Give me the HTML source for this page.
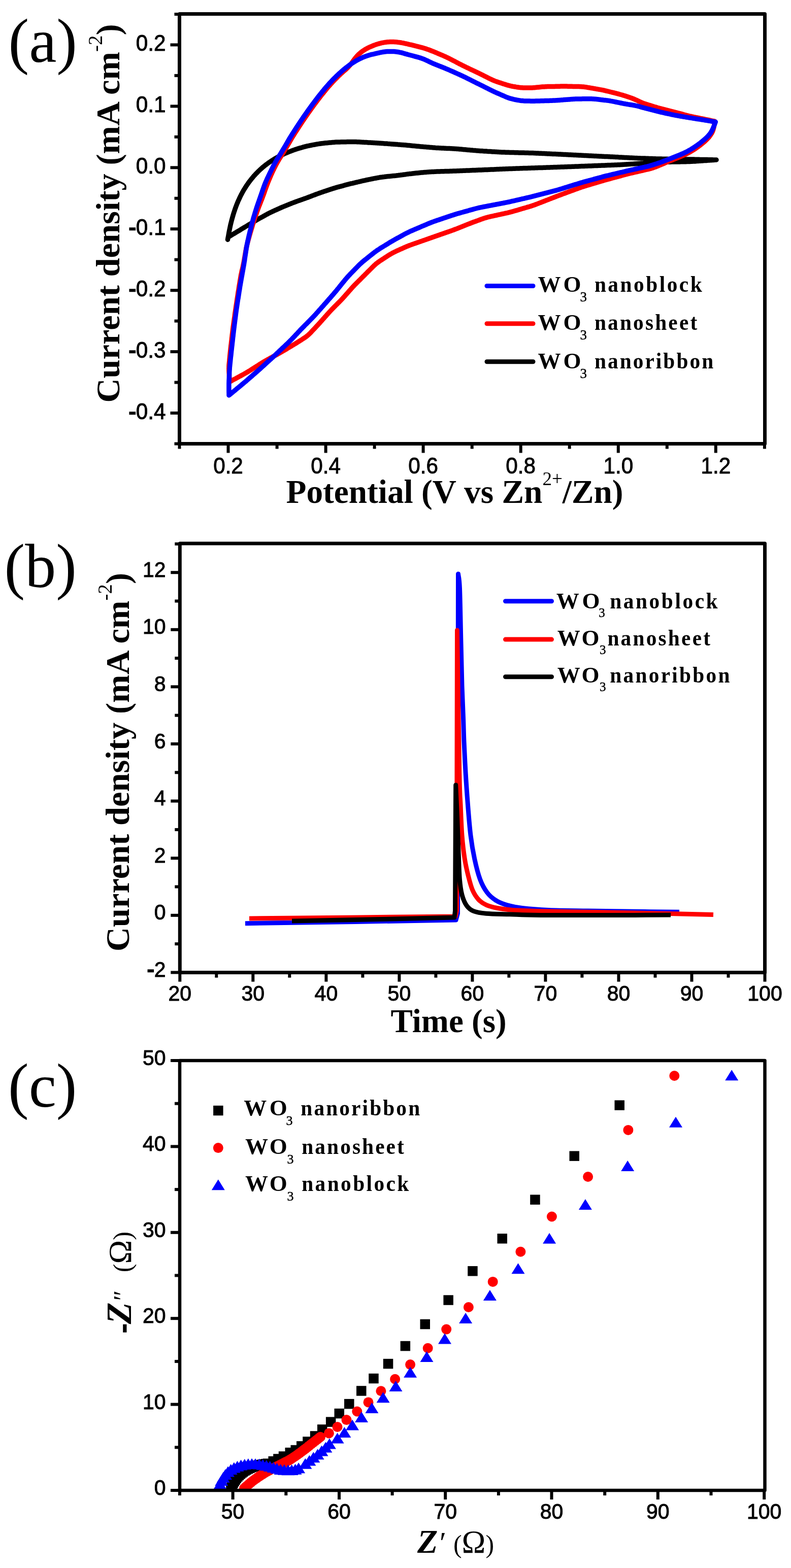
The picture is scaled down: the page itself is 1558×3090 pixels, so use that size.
<!DOCTYPE html>
<html><head><meta charset="utf-8"><title>WO3 electrochemistry figure</title>
<style>html,body{margin:0;padding:0;background:#fff;}svg{display:block;}</style>
</head><body>
<svg width="1558" height="3090" viewBox="0 0 1558 3090">
<rect width="1558" height="3090" fill="#fff"/>
<g fill="none" stroke-width="9.5" stroke-linejoin="round" stroke-linecap="round">
<path stroke="#000" d="M448.5,472.3 L448.8,470.3 L449.2,468.3 L449.5,466.4 L449.9,464.4 L450.2,462.4 L450.6,460.4 L450.9,458.5 L451.3,456.5 L451.7,454.5 L452.1,452.6 L452.5,450.6 L452.9,448.6 L453.3,446.7 L453.7,444.7 L454.2,442.7 L454.6,440.8 L455.1,438.8 L455.6,436.9 L456.1,434.9 L456.6,433.0 L457.1,431.1 L457.7,429.1 L458.2,427.2 L458.8,425.3 L459.3,423.4 L459.9,421.4 L460.5,419.5 L461.1,417.6 L461.8,415.7 L462.4,413.8 L463.0,411.9 L463.7,410.0 L464.4,408.1 L465.1,406.2 L465.8,404.4 L466.5,402.5 L467.3,400.6 L468.1,398.8 L468.8,396.9 L469.6,395.1 L470.5,393.3 L471.3,391.5 L472.2,389.6 L473.0,387.8 L473.9,386.0 L474.8,384.2 L475.7,382.5 L476.7,380.7 L477.6,378.9 L478.6,377.2 L479.6,375.4 L480.6,373.7 L481.7,372.0 L482.7,370.3 L483.8,368.6 L484.9,366.9 L486.0,365.2 L487.1,363.6 L488.3,361.9 L489.4,360.3 L490.6,358.7 L491.8,357.1 L493.0,355.5 L494.3,353.9 L495.5,352.3 L496.8,350.8 L498.1,349.3 L499.4,347.7 L500.7,346.2 L502.1,344.7 L503.4,343.3 L504.8,341.8 L506.2,340.4 L507.6,338.9 L509.0,337.5 L510.5,336.1 L511.9,334.8 L513.4,333.4 L514.9,332.1 L516.4,330.7 L517.9,329.4 L519.5,328.2 L521.0,326.9 L522.6,325.6 L524.2,324.4 L525.8,323.2 L527.4,322.0 L529.0,320.8 L530.7,319.7 L532.3,318.6 L534.0,317.4 L535.7,316.4 L537.4,315.3 L539.1,314.2 L540.8,313.2 L542.5,312.1 L544.2,311.1 L546.0,310.2 L547.7,309.2 L549.5,308.3 L551.3,307.4 L553.1,306.5 L554.9,305.6 L556.7,304.7 L558.5,303.8 L560.3,303.0 L562.1,302.2 L564.0,301.4 L565.8,300.6 L567.7,299.8 L569.6,299.1 L571.4,298.4 L573.3,297.7 L575.2,296.9 L577.1,296.2 L578.9,295.6 L580.8,294.9 L582.7,294.3 L584.6,293.6 L586.6,293.0 L588.5,292.4 L590.4,291.9 L592.3,291.3 L594.3,290.8 L596.2,290.2 L598.1,289.7 L600.1,289.2 L602.0,288.7 L603.9,288.2 L605.9,287.7 L607.9,287.3 L609.8,286.9 L611.8,286.5 L613.7,286.1 L615.7,285.7 L617.7,285.3 L619.7,285.0 L621.6,284.6 L623.6,284.2 L625.6,283.9 L627.6,283.6 L629.6,283.3 L631.5,283.0 L633.5,282.7 L635.5,282.5 L637.5,282.3 L639.5,282.0 L641.5,281.8 L643.5,281.7 L645.5,281.5 L647.5,281.3 L649.5,281.1 L651.5,280.9 L653.5,280.7 L655.5,280.5 L657.5,280.4 L659.5,280.2 L661.5,280.1 L663.5,280.0 L665.5,279.9 L667.5,279.9 L669.5,279.9 L671.5,279.8 L673.5,279.8 L675.5,279.8 L677.5,279.7 L679.5,279.7 L681.5,279.7 L683.6,279.6 L685.6,279.6 L687.6,279.6 L689.6,279.6 L691.6,279.5 L693.6,279.5 L695.6,279.5 L697.6,279.5 L699.6,279.6 L701.6,279.6 L703.6,279.7 L705.6,279.7 L707.6,279.8 L709.6,279.9 L711.6,280.1 L713.6,280.2 L715.6,280.3 L717.6,280.4 L719.6,280.5 L721.6,280.6 L723.7,280.7 L725.7,280.9 L727.7,281.0 L729.7,281.1 L731.7,281.2 L733.7,281.3 L735.7,281.5 L737.7,281.6 L739.7,281.7 L741.7,281.8 L743.7,282.0 L745.7,282.1 L747.7,282.2 L749.7,282.3 L751.7,282.5 L753.7,282.6 L755.7,282.7 L757.7,282.9 L759.7,283.0 L761.7,283.1 L763.7,283.3 L765.7,283.4 L767.7,283.6 L769.7,283.7 L771.7,283.9 L773.7,284.0 L775.7,284.2 L777.7,284.3 L779.7,284.5 L781.7,284.6 L783.7,284.8 L785.7,284.9 L787.7,285.1 L789.7,285.2 L791.7,285.4 L793.7,285.5 L795.7,285.7 L797.7,285.8 L799.7,286.0 L801.7,286.2 L803.7,286.4 L805.7,286.6 L807.7,286.8 L809.7,287.0 L811.7,287.2 L813.7,287.4 L815.7,287.6 L817.7,287.8 L819.7,288.0 L821.7,288.2 L823.7,288.3 L825.7,288.5 L827.7,288.7 L829.7,288.9 L831.7,289.1 L833.7,289.3 L835.7,289.5 L837.7,289.6 L839.7,289.8 L841.7,290.0 L843.7,290.1 L845.7,290.3 L847.7,290.5 L849.7,290.6 L851.7,290.8 L853.7,291.0 L855.7,291.1 L857.7,291.3 L859.7,291.4 L861.7,291.5 L863.7,291.6 L865.7,291.7 L867.7,291.8 L869.7,291.9 L871.7,292.0 L873.7,292.1 L875.7,292.2 L877.7,292.3 L879.7,292.4 L881.7,292.5 L883.8,292.5 L885.8,292.6 L887.8,292.7 L889.8,292.8 L891.8,292.9 L893.8,293.0 L895.8,293.2 L897.8,293.3 L899.8,293.5 L901.8,293.6 L903.8,293.8 L905.8,294.0 L907.8,294.1 L909.8,294.3 L911.8,294.5 L913.8,294.7 L915.8,294.8 L917.8,295.0 L919.8,295.2 L921.8,295.4 L923.8,295.5 L925.8,295.7 L927.8,295.9 L929.8,296.1 L931.8,296.3 L933.8,296.4 L935.8,296.6 L937.8,296.8 L939.8,296.9 L941.8,297.1 L943.8,297.2 L945.8,297.4 L947.8,297.5 L949.8,297.6 L951.8,297.8 L953.8,297.9 L955.8,298.0 L957.8,298.1 L959.8,298.3 L961.8,298.4 L963.8,298.5 L965.8,298.6 L967.8,298.7 L969.8,298.9 L971.8,299.0 L973.8,299.1 L975.8,299.2 L977.8,299.3 L979.8,299.5 L981.8,299.6 L983.8,299.7 L985.8,299.8 L987.8,299.9 L989.8,300.0 L991.9,300.1 L993.9,300.1 L995.9,300.2 L997.9,300.2 L999.9,300.3 L1001.9,300.3 L1003.9,300.4 L1005.9,300.5 L1007.9,300.5 L1009.9,300.6 L1011.9,300.6 L1013.9,300.7 L1015.9,300.7 L1017.9,300.8 L1019.9,300.8 L1021.9,300.9 L1023.9,300.9 L1026.0,301.0 L1028.0,301.0 L1030.0,301.1 L1032.0,301.1 L1034.0,301.2 L1036.0,301.2 L1038.0,301.3 L1040.0,301.3 L1042.0,301.4 L1044.0,301.4 L1046.0,301.5 L1048.0,301.6 L1050.0,301.6 L1052.0,301.7 L1054.0,301.8 L1056.0,301.9 L1058.1,302.0 L1060.1,302.1 L1062.1,302.2 L1064.1,302.2 L1066.1,302.3 L1068.1,302.4 L1070.1,302.5 L1072.1,302.6 L1074.1,302.7 L1076.1,302.8 L1078.1,302.9 L1080.1,303.0 L1082.1,303.1 L1084.1,303.2 L1086.1,303.3 L1088.1,303.4 L1090.1,303.4 L1092.1,303.5 L1094.1,303.6 L1096.1,303.7 L1098.1,303.8 L1100.2,303.9 L1102.2,304.0 L1104.2,304.1 L1106.2,304.2 L1108.2,304.3 L1110.2,304.4 L1112.2,304.5 L1114.2,304.6 L1116.2,304.7 L1118.2,304.8 L1120.2,304.9 L1122.2,305.0 L1124.2,305.1 L1126.2,305.2 L1128.2,305.3 L1130.2,305.4 L1132.2,305.5 L1134.2,305.6 L1136.2,305.7 L1138.2,305.8 L1140.2,305.9 L1142.2,306.0 L1144.3,306.1 L1146.3,306.2 L1148.3,306.3 L1150.3,306.4 L1152.3,306.5 L1154.3,306.6 L1156.3,306.7 L1158.3,306.8 L1160.3,306.9 L1162.3,307.0 L1164.3,307.1 L1166.3,307.2 L1168.3,307.3 L1170.3,307.4 L1172.3,307.5 L1174.3,307.6 L1176.3,307.7 L1178.3,307.8 L1180.3,307.9 L1182.3,308.0 L1184.3,308.1 L1186.3,308.2 L1188.4,308.3 L1190.4,308.4 L1192.4,308.4 L1194.4,308.5 L1196.4,308.6 L1198.4,308.7 L1200.4,308.8 L1202.4,308.9 L1204.4,309.0 L1206.4,309.1 L1208.4,309.2 L1210.4,309.3 L1212.4,309.4 L1214.4,309.5 L1216.4,309.6 L1218.4,309.8 L1220.4,309.9 L1222.4,310.0 L1224.4,310.1 L1226.4,310.2 L1228.4,310.3 L1230.4,310.4 L1232.4,310.5 L1234.5,310.6 L1236.5,310.7 L1238.5,310.8 L1240.5,310.9 L1242.5,311.0 L1244.5,311.1 L1246.5,311.2 L1248.5,311.3 L1250.5,311.4 L1252.5,311.5 L1254.5,311.6 L1256.5,311.7 L1258.5,311.7 L1260.5,311.8 L1262.5,311.9 L1264.5,311.9 L1266.5,312.0 L1268.5,312.1 L1270.5,312.1 L1272.6,312.2 L1274.6,312.3 L1276.6,312.3 L1278.6,312.4 L1280.6,312.5 L1282.6,312.5 L1284.6,312.6 L1286.6,312.7 L1288.6,312.7 L1290.6,312.8 L1292.6,312.9 L1294.6,312.9 L1296.6,313.0 L1298.6,313.0 L1300.6,313.1 L1302.6,313.1 L1304.6,313.2 L1306.7,313.2 L1308.7,313.2 L1310.7,313.3 L1312.7,313.3 L1314.7,313.3 L1316.7,313.4 L1318.7,313.4 L1320.7,313.4 L1322.7,313.4 L1324.7,313.5 L1326.7,313.5 L1328.7,313.5 L1330.7,313.6 L1332.7,313.6 L1334.7,313.6 L1336.8,313.7 L1338.8,313.7 L1340.8,313.7 L1342.8,313.7 L1344.8,313.8 L1346.8,313.8 L1348.8,313.8 L1350.8,313.9 L1352.8,313.9 L1354.8,313.9 L1356.8,314.0 L1358.8,314.0 L1360.8,314.0 L1362.8,314.1 L1364.8,314.1 L1366.9,314.1 L1368.9,314.2 L1370.9,314.2 L1372.9,314.3 L1374.9,314.3 L1376.9,314.3 L1378.9,314.4 L1380.9,314.4 L1382.9,314.4 L1384.9,314.5 L1386.9,314.5 L1388.9,314.6 L1390.9,314.6 L1392.9,314.6 L1394.9,314.7 L1397.0,314.7 L1399.0,314.8 L1401.0,314.8 L1403.0,314.8 L1405.0,314.9 L1407.0,314.9 L1409.0,315.0 L1411.0,315.0 M1411.0,315.0 L1409.0,315.1 L1407.0,315.3 L1405.0,315.4 L1403.0,315.5 L1401.0,315.7 L1399.0,315.8 L1397.0,316.0 L1395.0,316.1 L1393.0,316.2 L1391.0,316.4 L1389.0,316.5 L1387.0,316.6 L1385.0,316.8 L1383.0,316.9 L1381.0,317.1 L1379.0,317.2 L1377.0,317.3 L1375.0,317.5 L1373.0,317.6 L1371.0,317.7 L1369.0,317.9 L1367.0,318.0 L1365.0,318.1 L1363.0,318.2 L1361.0,318.3 L1359.0,318.4 L1357.0,318.5 L1355.0,318.6 L1353.0,318.6 L1351.0,318.7 L1349.0,318.7 L1347.0,318.7 L1345.0,318.8 L1343.0,318.8 L1341.0,318.8 L1339.0,318.9 L1337.0,318.9 L1335.0,318.9 L1332.9,319.0 L1330.9,319.0 L1328.9,319.0 L1326.9,319.1 L1324.9,319.1 L1322.9,319.1 L1320.9,319.2 L1318.9,319.2 L1316.9,319.2 L1314.9,319.3 L1312.9,319.3 L1310.9,319.3 L1308.9,319.4 L1306.9,319.4 L1304.9,319.4 L1302.9,319.5 L1300.9,319.6 L1298.9,319.7 L1296.9,319.8 L1294.9,319.9 L1292.9,320.0 L1290.9,320.1 L1288.9,320.3 L1286.9,320.4 L1284.9,320.5 L1282.9,320.7 L1280.9,320.8 L1278.9,320.9 L1276.9,321.1 L1274.9,321.2 L1272.9,321.4 L1270.9,321.5 L1268.9,321.6 L1266.9,321.8 L1264.9,321.9 L1262.9,322.0 L1260.9,322.2 L1258.9,322.3 L1256.9,322.4 L1254.9,322.5 L1252.9,322.7 L1250.9,322.8 L1248.9,322.9 L1246.9,323.1 L1244.9,323.2 L1242.9,323.3 L1240.9,323.5 L1238.9,323.6 L1236.9,323.7 L1234.9,323.8 L1232.9,324.0 L1230.9,324.1 L1228.9,324.2 L1226.9,324.3 L1224.9,324.5 L1222.9,324.6 L1220.9,324.7 L1218.9,324.8 L1216.9,324.8 L1214.9,324.9 L1212.9,325.0 L1210.9,325.1 L1208.9,325.2 L1206.9,325.2 L1204.8,325.3 L1202.8,325.4 L1200.8,325.5 L1198.8,325.5 L1196.8,325.6 L1194.8,325.7 L1192.8,325.8 L1190.8,325.9 L1188.8,325.9 L1186.8,326.0 L1184.8,326.1 L1182.8,326.2 L1180.8,326.3 L1178.8,326.3 L1176.8,326.4 L1174.8,326.5 L1172.8,326.6 L1170.8,326.6 L1168.8,326.7 L1166.8,326.8 L1164.8,326.9 L1162.8,327.0 L1160.8,327.0 L1158.8,327.1 L1156.8,327.2 L1154.8,327.3 L1152.8,327.3 L1150.8,327.4 L1148.8,327.5 L1146.8,327.6 L1144.8,327.6 L1142.8,327.7 L1140.8,327.8 L1138.7,327.9 L1136.7,327.9 L1134.7,328.0 L1132.7,328.1 L1130.7,328.2 L1128.7,328.2 L1126.7,328.3 L1124.7,328.4 L1122.7,328.5 L1120.7,328.5 L1118.7,328.6 L1116.7,328.7 L1114.7,328.8 L1112.7,328.8 L1110.7,328.9 L1108.7,329.0 L1106.7,329.0 L1104.7,329.1 L1102.7,329.2 L1100.7,329.3 L1098.7,329.3 L1096.7,329.4 L1094.7,329.5 L1092.7,329.5 L1090.7,329.6 L1088.7,329.7 L1086.7,329.8 L1084.7,329.8 L1082.7,329.9 L1080.7,330.0 L1078.7,330.0 L1076.6,330.1 L1074.6,330.2 L1072.6,330.2 L1070.6,330.3 L1068.6,330.4 L1066.6,330.4 L1064.6,330.5 L1062.6,330.6 L1060.6,330.6 L1058.6,330.7 L1056.6,330.8 L1054.6,330.8 L1052.6,330.9 L1050.6,331.0 L1048.6,331.0 L1046.6,331.1 L1044.6,331.2 L1042.6,331.2 L1040.6,331.3 L1038.6,331.4 L1036.6,331.4 L1034.6,331.5 L1032.6,331.6 L1030.6,331.6 L1028.6,331.7 L1026.6,331.8 L1024.6,331.8 L1022.6,331.9 L1020.6,332.0 L1018.6,332.0 L1016.5,332.1 L1014.5,332.2 L1012.5,332.2 L1010.5,332.3 L1008.5,332.4 L1006.5,332.4 L1004.5,332.5 L1002.5,332.6 L1000.5,332.7 L998.5,332.7 L996.5,332.8 L994.5,332.9 L992.5,333.0 L990.5,333.1 L988.5,333.2 L986.5,333.3 L984.5,333.3 L982.5,333.4 L980.5,333.5 L978.5,333.6 L976.5,333.7 L974.5,333.8 L972.5,333.9 L970.5,334.0 L968.5,334.0 L966.5,334.1 L964.5,334.2 L962.5,334.3 L960.5,334.4 L958.5,334.5 L956.5,334.5 L954.5,334.6 L952.5,334.7 L950.5,334.8 L948.5,334.9 L946.5,335.0 L944.4,335.0 L942.4,335.1 L940.4,335.2 L938.4,335.3 L936.4,335.4 L934.4,335.4 L932.4,335.5 L930.4,335.6 L928.4,335.7 L926.4,335.8 L924.4,335.9 L922.4,335.9 L920.4,336.0 L918.4,336.1 L916.4,336.2 L914.4,336.3 L912.4,336.3 L910.4,336.4 L908.4,336.5 L906.4,336.6 L904.4,336.7 L902.4,336.7 L900.4,336.8 L898.4,336.9 L896.4,337.0 L894.4,337.0 L892.4,337.1 L890.4,337.2 L888.4,337.2 L886.4,337.3 L884.4,337.4 L882.4,337.4 L880.4,337.5 L878.3,337.5 L876.3,337.6 L874.3,337.7 L872.3,337.7 L870.3,337.8 L868.3,337.8 L866.3,337.9 L864.3,338.0 L862.3,338.1 L860.3,338.1 L858.3,338.2 L856.3,338.3 L854.3,338.4 L852.3,338.5 L850.3,338.6 L848.3,338.7 L846.3,338.8 L844.3,338.9 L842.3,339.1 L840.3,339.2 L838.3,339.4 L836.3,339.5 L834.3,339.7 L832.3,339.9 L830.3,340.1 L828.3,340.3 L826.3,340.5 L824.3,340.7 L822.3,340.9 L820.3,341.1 L818.4,341.3 L816.4,341.5 L814.4,341.7 L812.4,341.9 L810.4,342.2 L808.4,342.4 L806.4,342.6 L804.4,342.9 L802.4,343.1 L800.4,343.4 L798.5,343.7 L796.5,343.9 L794.5,344.2 L792.5,344.5 L790.5,344.7 L788.5,345.0 L786.5,345.2 L784.5,345.5 L782.6,345.7 L780.6,346.0 L778.6,346.2 L776.6,346.4 L774.6,346.6 L772.6,346.8 L770.6,347.1 L768.6,347.2 L766.6,347.4 L764.6,347.6 L762.6,347.8 L760.6,348.0 L758.6,348.2 L756.6,348.5 L754.7,348.7 L752.7,349.0 L750.7,349.2 L748.7,349.5 L746.7,349.9 L744.8,350.2 L742.8,350.6 L740.8,351.0 L738.9,351.3 L736.9,351.7 L734.9,352.1 L733.0,352.5 L731.0,352.9 L729.0,353.3 L727.1,353.7 L725.1,354.1 L723.1,354.5 L721.2,354.9 L719.2,355.4 L717.3,355.8 L715.3,356.2 L713.3,356.7 L711.4,357.1 L709.4,357.6 L707.5,358.0 L705.5,358.5 L703.6,359.0 L701.6,359.4 L699.7,359.9 L697.7,360.3 L695.8,360.8 L693.8,361.3 L691.9,361.7 L689.9,362.2 L688.0,362.7 L686.1,363.2 L684.1,363.7 L682.2,364.2 L680.2,364.7 L678.3,365.2 L676.4,365.8 L674.4,366.3 L672.5,366.8 L670.6,367.3 L668.6,367.8 L666.7,368.3 L664.7,368.9 L662.8,369.4 L660.9,370.0 L659.0,370.6 L657.1,371.1 L655.2,371.7 L653.2,372.4 L651.3,373.0 L649.4,373.6 L647.5,374.3 L645.6,374.9 L643.7,375.5 L641.8,376.2 L639.9,376.8 L638.0,377.4 L636.1,378.1 L634.2,378.7 L632.3,379.4 L630.5,380.0 L628.6,380.7 L626.7,381.4 L624.8,382.1 L622.9,382.8 L621.0,383.5 L619.2,384.2 L617.3,384.9 L615.4,385.6 L613.6,386.3 L611.7,387.1 L609.8,387.8 L607.9,388.5 L606.1,389.2 L604.2,389.9 L602.3,390.6 L600.4,391.3 L598.5,391.9 L596.6,392.6 L594.7,393.3 L592.9,393.9 L591.0,394.6 L589.1,395.2 L587.2,395.9 L585.3,396.6 L583.4,397.3 L581.5,398.0 L579.6,398.7 L577.8,399.4 L575.9,400.1 L574.0,400.8 L572.2,401.6 L570.3,402.3 L568.5,403.1 L566.6,403.8 L564.7,404.6 L562.9,405.3 L561.0,406.1 L559.2,406.9 L557.3,407.6 L555.5,408.4 L553.7,409.2 L551.8,410.0 L550.0,410.8 L548.2,411.7 L546.3,412.5 L544.5,413.3 L542.7,414.1 L540.8,414.9 L539.0,415.8 L537.2,416.6 L535.4,417.5 L533.6,418.3 L531.8,419.2 L530.0,420.1 L528.2,421.0 L526.4,422.0 L524.7,422.9 L522.9,423.9 L521.2,424.9 L519.4,425.8 L517.7,426.8 L515.9,427.8 L514.2,428.7 L512.4,429.7 L510.7,430.7 L508.9,431.7 L507.2,432.7 L505.4,433.7 L503.7,434.7 L502.0,435.7 L500.3,436.7 L498.5,437.8 L496.8,438.8 L495.1,439.8 L493.4,440.9 L491.7,441.9 L489.9,442.9 L488.2,443.9 L486.5,445.0 L484.8,446.0 L483.1,447.0 L481.3,448.1 L479.6,449.1 L477.9,450.2 L476.2,451.2 L474.5,452.2 L472.8,453.3 L471.1,454.3 L469.3,455.3 L467.6,456.4 L465.9,457.4 L464.2,458.4 L462.5,459.5 L460.7,460.5 L459.0,461.5 L457.3,462.6 L455.6,463.6 L453.9,464.7 L452.2,465.7 L450.5,466.8"/>
<path stroke="#f00" d="M452.3,752.5 L452.2,750.5 L452.0,748.5 L451.9,746.5 L451.8,744.5 L451.6,742.5 L451.5,740.5 L451.4,738.5 L451.3,736.5 L451.1,734.5 L451.0,732.5 L450.9,730.5 L450.9,728.5 L450.8,726.5 L450.9,724.5 L450.9,722.5 L451.0,720.5 L451.1,718.5 L451.3,716.5 L451.5,714.5 L451.7,712.5 L451.9,710.5 L452.0,708.5 L452.2,706.6 L452.4,704.6 L452.6,702.6 L452.8,700.6 L453.0,698.6 L453.2,696.6 L453.4,694.6 L453.6,692.6 L453.8,690.6 L454.0,688.6 L454.2,686.6 L454.5,684.6 L454.7,682.6 L454.9,680.6 L455.2,678.7 L455.4,676.7 L455.6,674.7 L455.8,672.7 L456.1,670.7 L456.3,668.7 L456.5,666.7 L456.8,664.7 L457.0,662.7 L457.2,660.7 L457.4,658.7 L457.7,656.8 L457.9,654.8 L458.1,652.8 L458.4,650.8 L458.6,648.8 L458.9,646.8 L459.1,644.8 L459.4,642.8 L459.7,640.8 L459.9,638.9 L460.2,636.9 L460.5,634.9 L460.8,632.9 L461.1,630.9 L461.3,628.9 L461.6,627.0 L461.9,625.0 L462.2,623.0 L462.4,621.0 L462.7,619.0 L463.0,617.0 L463.3,615.0 L463.6,613.1 L463.8,611.1 L464.1,609.1 L464.4,607.1 L464.7,605.1 L465.0,603.1 L465.3,601.2 L465.6,599.2 L465.9,597.2 L466.2,595.2 L466.5,593.2 L466.8,591.3 L467.1,589.3 L467.4,587.3 L467.7,585.3 L468.0,583.3 L468.3,581.4 L468.6,579.4 L468.9,577.4 L469.2,575.4 L469.5,573.4 L469.9,571.5 L470.2,569.5 L470.5,567.5 L470.8,565.5 L471.1,563.5 L471.4,561.6 L471.7,559.6 L472.1,557.6 L472.4,555.6 L472.7,553.7 L473.1,551.7 L473.4,549.7 L473.7,547.7 L474.1,545.7 L474.4,543.8 L474.8,541.8 L475.2,539.8 L475.6,537.9 L476.0,535.9 L476.4,534.0 L476.9,532.0 L477.4,530.1 L477.8,528.1 L478.3,526.2 L478.7,524.2 L479.1,522.2 L479.5,520.3 L479.9,518.3 L480.3,516.4 L480.6,514.4 L481.0,512.4 L481.3,510.4 L481.6,508.5 L482.0,506.5 L482.3,504.5 L482.7,502.5 L483.0,500.6 L483.3,498.6 L483.7,496.6 L484.0,494.6 L484.4,492.7 L484.7,490.7 L485.1,488.7 L485.5,486.8 L486.0,484.8 L486.4,482.9 L486.9,480.9 L487.4,479.0 L487.9,477.0 L488.4,475.1 L489.0,473.2 L489.5,471.2 L490.0,469.3 L490.6,467.4 L491.1,465.4 L491.6,463.5 L492.2,461.6 L492.7,459.7 L493.3,457.7 L493.9,455.8 L494.4,453.9 L495.0,452.0 L495.6,450.1 L496.2,448.1 L496.7,446.2 L497.3,444.3 L497.9,442.4 L498.5,440.5 L499.1,438.6 L499.7,436.7 L500.3,434.7 L500.9,432.8 L501.6,430.9 L502.2,429.0 L502.9,427.1 L503.5,425.2 L504.1,423.4 L504.8,421.5 L505.4,419.6 L506.1,417.7 L506.8,415.8 L507.4,413.9 L508.1,412.0 L508.8,410.1 L509.5,408.3 L510.2,406.4 L511.0,404.5 L511.7,402.7 L512.4,400.8 L513.2,398.9 L513.9,397.1 L514.6,395.2 L515.4,393.3 L516.1,391.5 L516.8,389.6 L517.5,387.7 L518.2,385.8 L518.9,384.0 L519.6,382.1 L520.3,380.2 L520.9,378.3 L521.6,376.4 L522.2,374.5 L522.9,372.6 L523.6,370.7 L524.3,368.8 L524.9,367.0 L525.6,365.1 L526.4,363.2 L527.1,361.4 L527.8,359.5 L528.6,357.6 L529.3,355.8 L530.1,353.9 L530.9,352.1 L531.7,350.2 L532.5,348.4 L533.2,346.6 L534.0,344.7 L534.9,342.9 L535.7,341.1 L536.5,339.2 L537.4,337.4 L538.2,335.6 L539.1,333.8 L540.0,332.0 L540.9,330.2 L541.8,328.4 L542.7,326.6 L543.6,324.9 L544.5,323.1 L545.5,321.3 L546.5,319.6 L547.5,317.8 L548.5,316.1 L549.5,314.4 L550.5,312.7 L551.6,311.0 L552.6,309.3 L553.7,307.6 L554.8,305.9 L555.8,304.2 L556.9,302.5 L557.9,300.8 L559.0,299.1 L560.0,297.3 L561.0,295.6 L562.1,293.9 L563.1,292.2 L564.1,290.5 L565.1,288.7 L566.1,287.0 L567.1,285.3 L568.2,283.5 L569.2,281.8 L570.2,280.1 L571.2,278.3 L572.2,276.6 L573.2,274.9 L574.2,273.1 L575.2,271.4 L576.3,269.7 L577.3,268.0 L578.4,266.3 L579.5,264.6 L580.5,262.9 L581.6,261.2 L582.7,259.5 L583.8,257.9 L584.9,256.2 L585.9,254.5 L587.0,252.8 L588.1,251.1 L589.2,249.4 L590.3,247.7 L591.4,246.1 L592.5,244.4 L593.6,242.7 L594.7,241.1 L595.8,239.4 L596.9,237.7 L598.1,236.1 L599.2,234.4 L600.3,232.8 L601.4,231.1 L602.6,229.5 L603.7,227.8 L604.8,226.2 L606.0,224.5 L607.1,222.9 L608.3,221.2 L609.5,219.6 L610.6,218.0 L611.8,216.3 L612.9,214.7 L614.1,213.1 L615.3,211.5 L616.5,209.8 L617.6,208.2 L618.8,206.6 L620.0,205.0 L621.2,203.4 L622.4,201.8 L623.6,200.2 L624.8,198.6 L626.0,197.0 L627.2,195.4 L628.5,193.8 L629.7,192.2 L630.9,190.6 L632.1,189.0 L633.4,187.5 L634.6,185.9 L635.9,184.3 L637.2,182.8 L638.4,181.2 L639.7,179.7 L641.0,178.1 L642.2,176.6 L643.5,175.0 L644.8,173.5 L646.1,172.0 L647.4,170.5 L648.7,169.0 L650.1,167.5 L651.4,166.0 L652.7,164.5 L654.1,163.0 L655.4,161.5 L656.8,160.0 L658.2,158.6 L659.6,157.1 L660.9,155.7 L662.4,154.3 L663.8,152.9 L665.2,151.4 L666.6,150.0 L668.1,148.7 L669.5,147.3 L671.0,145.9 L672.5,144.5 L673.9,143.2 L675.4,141.9 L676.9,140.5 L678.4,139.2 L680.0,137.9 L681.5,136.6 L682.9,135.2 L684.4,133.8 L685.7,132.4 L687.1,131.0 L688.4,129.5 L689.7,127.9 L691.0,126.4 L692.2,124.8 L693.4,123.2 L694.5,121.6 L695.7,119.9 L696.9,118.3 L698.1,116.7 L699.3,115.1 L700.5,113.5 L701.8,112.0 L703.1,110.5 L704.5,109.0 L705.9,107.6 L707.3,106.3 L708.8,105.0 L710.4,103.7 L711.9,102.4 L713.5,101.2 L715.2,100.1 L716.8,99.0 L718.5,97.9 L720.2,96.9 L722.0,95.9 L723.7,95.0 L725.5,94.1 L727.3,93.2 L729.2,92.4 L731.0,91.6 L732.8,90.8 L734.7,90.0 L736.5,89.3 L738.4,88.6 L740.3,87.9 L742.2,87.3 L744.1,86.7 L746.0,86.1 L747.9,85.6 L749.9,85.1 L751.8,84.6 L753.8,84.2 L755.7,83.9 L757.7,83.5 L759.7,83.3 L761.7,83.0 L763.7,82.8 L765.7,82.7 L767.7,82.6 L769.7,82.6 L771.7,82.6 L773.7,82.6 L775.7,82.6 L777.7,82.7 L779.7,82.8 L781.6,82.9 L783.6,83.2 L785.6,83.4 L787.6,83.7 L789.6,84.0 L791.5,84.4 L793.5,84.7 L795.5,85.1 L797.4,85.6 L799.4,86.0 L801.3,86.4 L803.3,86.8 L805.3,87.3 L807.2,87.8 L809.2,88.2 L811.1,88.7 L813.0,89.2 L815.0,89.7 L816.9,90.2 L818.9,90.7 L820.8,91.1 L822.8,91.6 L824.7,92.1 L826.6,92.6 L828.6,93.1 L830.5,93.6 L832.5,94.1 L834.4,94.7 L836.3,95.3 L838.2,95.9 L840.1,96.5 L842.0,97.2 L843.9,97.8 L845.8,98.5 L847.6,99.2 L849.5,100.0 L851.4,100.7 L853.2,101.4 L855.1,102.2 L856.9,103.0 L858.8,103.7 L860.6,104.5 L862.5,105.3 L864.3,106.1 L866.2,106.9 L868.0,107.7 L869.8,108.4 L871.7,109.2 L873.5,110.0 L875.4,110.8 L877.2,111.6 L879.0,112.5 L880.8,113.3 L882.6,114.2 L884.4,115.1 L886.2,116.0 L888.0,116.9 L889.8,117.8 L891.5,118.8 L893.3,119.7 L895.1,120.6 L896.9,121.5 L898.6,122.5 L900.4,123.4 L902.2,124.3 L904.0,125.3 L905.7,126.2 L907.5,127.1 L909.3,128.0 L911.1,128.9 L912.9,129.8 L914.7,130.7 L916.5,131.6 L918.3,132.5 L920.1,133.3 L921.9,134.2 L923.7,135.0 L925.5,135.9 L927.3,136.8 L929.1,137.6 L931.0,138.5 L932.8,139.3 L934.6,140.2 L936.4,141.1 L938.2,141.9 L940.0,142.8 L941.8,143.7 L943.6,144.5 L945.4,145.4 L947.2,146.3 L949.0,147.2 L950.8,148.1 L952.6,149.0 L954.4,149.9 L956.2,150.8 L958.0,151.7 L959.8,152.6 L961.5,153.5 L963.3,154.4 L965.1,155.3 L966.9,156.1 L968.7,157.0 L970.6,157.8 L972.4,158.6 L974.2,159.4 L976.1,160.1 L978.0,160.8 L979.9,161.4 L981.8,162.1 L983.7,162.7 L985.6,163.3 L987.5,163.9 L989.4,164.6 L991.3,165.2 L993.2,165.8 L995.1,166.4 L997.0,167.0 L998.9,167.6 L1000.9,168.1 L1002.8,168.7 L1004.7,169.1 L1006.7,169.6 L1008.6,170.0 L1010.6,170.4 L1012.6,170.7 L1014.6,171.0 L1016.5,171.4 L1018.5,171.7 L1020.5,172.0 L1022.5,172.3 L1024.5,172.5 L1026.4,172.7 L1028.4,172.8 L1030.4,173.0 L1032.4,173.0 L1034.4,173.1 L1036.4,173.1 L1038.4,173.1 L1040.4,173.1 L1042.4,173.1 L1044.4,173.1 L1046.4,173.0 L1048.4,172.9 L1050.4,172.8 L1052.4,172.7 L1054.4,172.5 L1056.4,172.3 L1058.4,172.1 L1060.4,171.9 L1062.4,171.7 L1064.4,171.5 L1066.4,171.3 L1068.4,171.1 L1070.4,171.0 L1072.4,170.9 L1074.4,170.8 L1076.4,170.7 L1078.4,170.6 L1080.4,170.6 L1082.4,170.6 L1084.4,170.5 L1086.4,170.5 L1088.4,170.4 L1090.4,170.4 L1092.4,170.4 L1094.4,170.3 L1096.4,170.3 L1098.4,170.3 L1100.4,170.2 L1102.4,170.2 L1104.4,170.1 L1106.4,170.1 L1108.4,170.1 L1110.4,170.1 L1112.4,170.1 L1114.4,170.1 L1116.4,170.1 L1118.4,170.2 L1120.4,170.2 L1122.4,170.2 L1124.5,170.3 L1126.5,170.3 L1128.5,170.4 L1130.5,170.4 L1132.5,170.5 L1134.5,170.5 L1136.5,170.5 L1138.5,170.6 L1140.5,170.6 L1142.5,170.7 L1144.5,170.8 L1146.5,170.9 L1148.5,171.1 L1150.5,171.3 L1152.4,171.6 L1154.4,171.8 L1156.4,172.1 L1158.4,172.5 L1160.4,172.8 L1162.3,173.1 L1164.3,173.5 L1166.3,173.8 L1168.3,174.1 L1170.2,174.5 L1172.2,174.8 L1174.2,175.2 L1176.1,175.5 L1178.1,175.9 L1180.1,176.2 L1182.1,176.6 L1184.0,176.9 L1186.0,177.3 L1188.0,177.7 L1189.9,178.2 L1191.9,178.6 L1193.8,179.1 L1195.8,179.5 L1197.7,180.0 L1199.7,180.5 L1201.6,181.0 L1203.5,181.5 L1205.5,182.0 L1207.4,182.4 L1209.4,182.9 L1211.3,183.4 L1213.3,183.9 L1215.2,184.4 L1217.1,184.9 L1219.1,185.4 L1221.0,186.0 L1222.9,186.5 L1224.9,187.0 L1226.8,187.6 L1228.7,188.2 L1230.6,188.8 L1232.5,189.4 L1234.4,190.0 L1236.3,190.6 L1238.2,191.3 L1240.1,191.9 L1242.0,192.6 L1243.9,193.3 L1245.8,194.0 L1247.6,194.7 L1249.5,195.5 L1251.3,196.3 L1253.2,197.1 L1255.0,197.9 L1256.8,198.8 L1258.6,199.7 L1260.4,200.5 L1262.2,201.3 L1264.0,202.1 L1265.9,202.9 L1267.8,203.6 L1269.6,204.3 L1271.5,204.9 L1273.4,205.5 L1275.3,206.1 L1277.3,206.7 L1279.2,207.3 L1281.1,207.9 L1283.0,208.5 L1284.9,209.1 L1286.8,209.7 L1288.8,210.3 L1290.7,210.8 L1292.6,211.4 L1294.5,212.0 L1296.4,212.5 L1298.4,213.1 L1300.3,213.6 L1302.2,214.1 L1304.2,214.6 L1306.1,215.1 L1308.1,215.6 L1310.0,216.1 L1311.9,216.6 L1313.9,217.1 L1315.8,217.6 L1317.8,218.1 L1319.7,218.6 L1321.6,219.1 L1323.6,219.6 L1325.5,220.1 L1327.5,220.6 L1329.4,221.1 L1331.3,221.6 L1333.3,222.1 L1335.2,222.7 L1337.1,223.2 L1339.1,223.7 L1341.0,224.2 L1343.0,224.7 L1344.9,225.2 L1346.8,225.8 L1348.8,226.3 L1350.7,226.8 L1352.6,227.3 L1354.6,227.8 L1356.5,228.3 L1358.5,228.8 L1360.4,229.2 L1362.4,229.7 L1364.3,230.1 L1366.3,230.5 L1368.2,231.0 L1370.2,231.3 L1372.2,231.7 L1374.1,232.1 L1376.1,232.5 L1378.1,232.9 L1380.0,233.3 L1382.0,233.7 L1384.0,234.1 L1385.9,234.5 L1387.9,234.9 L1389.9,235.3 L1391.8,235.7 L1393.8,236.1 L1395.7,236.5 L1397.7,236.9 L1399.7,237.3 L1401.6,237.8 L1403.6,238.2 L1405.5,238.6 L1407.5,239.0 M1407.5,239.0 L1407.4,241.0 L1407.2,243.0 L1407.0,245.0 L1406.7,247.0 L1406.4,248.9 L1406.0,250.9 L1405.5,252.8 L1405.0,254.7 L1404.4,256.6 L1403.7,258.5 L1402.9,260.3 L1402.0,262.1 L1401.0,263.8 L1399.9,265.4 L1398.8,267.1 L1397.6,268.7 L1396.4,270.3 L1395.1,271.8 L1393.7,273.2 L1392.3,274.7 L1390.9,276.1 L1389.5,277.5 L1388.0,278.8 L1386.5,280.1 L1385.0,281.4 L1383.4,282.7 L1381.9,284.0 L1380.3,285.2 L1378.7,286.5 L1377.1,287.7 L1375.5,288.9 L1373.9,290.0 L1372.2,291.2 L1370.6,292.3 L1368.9,293.5 L1367.3,294.6 L1365.6,295.6 L1363.9,296.7 L1362.2,297.7 L1360.4,298.8 L1358.7,299.7 L1356.9,300.7 L1355.2,301.7 L1353.4,302.6 L1351.6,303.5 L1349.8,304.4 L1348.0,305.3 L1346.2,306.1 L1344.4,306.9 L1342.5,307.8 L1340.7,308.5 L1338.8,309.3 L1337.0,310.1 L1335.1,310.8 L1333.3,311.6 L1331.4,312.3 L1329.5,313.1 L1327.7,313.8 L1325.8,314.5 L1323.9,315.3 L1322.1,316.0 L1320.2,316.7 L1318.4,317.5 L1316.5,318.3 L1314.7,319.1 L1312.8,319.9 L1311.0,320.7 L1309.1,321.5 L1307.3,322.3 L1305.5,323.1 L1303.6,323.9 L1301.8,324.7 L1299.9,325.4 L1298.1,326.2 L1296.2,327.0 L1294.4,327.7 L1292.5,328.5 L1290.7,329.2 L1288.8,329.9 L1286.9,330.6 L1285.0,331.2 L1283.1,331.8 L1281.1,332.3 L1279.2,332.8 L1277.3,333.3 L1275.3,333.8 L1273.4,334.2 L1271.4,334.7 L1269.5,335.2 L1267.5,335.6 L1265.6,336.1 L1263.6,336.5 L1261.6,337.0 L1259.7,337.4 L1257.7,337.9 L1255.8,338.3 L1253.8,338.8 L1251.9,339.2 L1249.9,339.7 L1248.0,340.1 L1246.0,340.6 L1244.1,341.0 L1242.1,341.5 L1240.2,342.0 L1238.2,342.5 L1236.3,343.0 L1234.3,343.5 L1232.4,344.0 L1230.4,344.5 L1228.5,345.0 L1226.6,345.5 L1224.6,346.0 L1222.7,346.6 L1220.8,347.1 L1218.8,347.6 L1216.9,348.1 L1214.9,348.6 L1213.0,349.2 L1211.1,349.7 L1209.1,350.2 L1207.2,350.7 L1205.3,351.2 L1203.3,351.8 L1201.4,352.3 L1199.5,352.8 L1197.5,353.3 L1195.6,353.9 L1193.7,354.4 L1191.7,355.0 L1189.8,355.5 L1187.9,356.1 L1185.9,356.6 L1184.0,357.2 L1182.1,357.8 L1180.2,358.4 L1178.3,358.9 L1176.3,359.5 L1174.4,360.1 L1172.5,360.6 L1170.6,361.2 L1168.6,361.8 L1166.7,362.4 L1164.8,362.9 L1162.9,363.5 L1161.0,364.1 L1159.0,364.7 L1157.1,365.2 L1155.2,365.8 L1153.3,366.4 L1151.4,367.0 L1149.4,367.6 L1147.5,368.2 L1145.6,368.8 L1143.7,369.5 L1141.8,370.1 L1139.9,370.8 L1138.1,371.5 L1136.2,372.2 L1134.3,372.9 L1132.4,373.6 L1130.5,374.3 L1128.7,375.0 L1126.8,375.6 L1124.9,376.3 L1123.0,377.0 L1121.1,377.7 L1119.2,378.4 L1117.4,379.1 L1115.5,379.8 L1113.6,380.5 L1111.7,381.2 L1109.8,381.9 L1107.9,382.6 L1106.1,383.3 L1104.2,384.0 L1102.3,384.7 L1100.4,385.4 L1098.6,386.1 L1096.7,386.8 L1094.8,387.5 L1092.9,388.3 L1091.1,389.0 L1089.2,389.7 L1087.3,390.4 L1085.5,391.2 L1083.6,391.9 L1081.7,392.6 L1079.9,393.4 L1078.0,394.1 L1076.1,394.8 L1074.2,395.5 L1072.4,396.3 L1070.5,397.0 L1068.6,397.7 L1066.8,398.5 L1064.9,399.2 L1063.0,399.9 L1061.2,400.6 L1059.3,401.4 L1057.4,402.1 L1055.6,402.8 L1053.7,403.5 L1051.8,404.2 L1049.9,404.8 L1048.0,405.5 L1046.1,406.1 L1044.2,406.7 L1042.3,407.3 L1040.3,407.8 L1038.4,408.4 L1036.5,409.0 L1034.6,409.5 L1032.6,410.1 L1030.7,410.7 L1028.8,411.2 L1026.9,411.8 L1024.9,412.4 L1023.0,412.9 L1021.1,413.5 L1019.2,414.1 L1017.2,414.6 L1015.3,415.2 L1013.4,415.7 L1011.5,416.3 L1009.5,416.9 L1007.6,417.4 L1005.7,417.9 L1003.7,418.4 L1001.8,418.9 L999.8,419.4 L997.9,419.8 L995.9,420.2 L994.0,420.7 L992.0,421.1 L990.0,421.5 L988.1,421.9 L986.1,422.4 L984.2,422.8 L982.2,423.2 L980.2,423.6 L978.3,424.1 L976.3,424.5 L974.4,424.9 L972.4,425.3 L970.4,425.8 L968.5,426.2 L966.5,426.6 L964.6,427.1 L962.6,427.5 L960.7,428.0 L958.7,428.6 L956.8,429.1 L954.9,429.7 L953.0,430.3 L951.1,431.0 L949.2,431.6 L947.3,432.3 L945.4,433.0 L943.6,433.7 L941.7,434.4 L939.8,435.1 L937.9,435.8 L936.0,436.5 L934.1,437.1 L932.3,437.8 L930.4,438.5 L928.5,439.2 L926.6,440.0 L924.8,440.7 L922.9,441.4 L921.0,442.1 L919.2,442.9 L917.3,443.6 L915.4,444.4 L913.6,445.1 L911.7,445.9 L909.9,446.6 L908.0,447.4 L906.1,448.1 L904.3,448.9 L902.4,449.6 L900.6,450.4 L898.7,451.1 L896.8,451.8 L894.9,452.5 L893.1,453.2 L891.2,453.9 L889.3,454.6 L887.4,455.3 L885.5,455.9 L883.6,456.6 L881.7,457.2 L879.8,457.9 L877.9,458.5 L876.0,459.2 L874.1,459.9 L872.2,460.5 L870.3,461.2 L868.4,461.8 L866.5,462.5 L864.7,463.2 L862.8,463.8 L860.9,464.5 L859.0,465.1 L857.1,465.8 L855.2,466.5 L853.3,467.1 L851.4,467.8 L849.5,468.5 L847.6,469.1 L845.7,469.8 L843.8,470.5 L841.9,471.1 L840.0,471.8 L838.2,472.4 L836.3,473.1 L834.4,473.8 L832.5,474.4 L830.6,475.1 L828.7,475.8 L826.8,476.4 L824.9,477.1 L823.0,477.8 L821.1,478.4 L819.2,479.1 L817.3,479.7 L815.4,480.4 L813.5,481.1 L811.7,481.7 L809.8,482.4 L807.9,483.1 L806.0,483.8 L804.1,484.5 L802.3,485.3 L800.4,486.0 L798.6,486.8 L796.7,487.6 L794.9,488.4 L793.1,489.3 L791.3,490.1 L789.4,490.9 L787.6,491.7 L785.8,492.6 L783.9,493.4 L782.1,494.2 L780.3,495.0 L778.5,495.9 L776.7,496.8 L774.9,497.7 L773.1,498.6 L771.4,499.6 L769.6,500.6 L767.9,501.6 L766.2,502.6 L764.5,503.7 L762.8,504.8 L761.1,505.9 L759.5,507.0 L757.8,508.1 L756.1,509.2 L754.4,510.3 L752.7,511.4 L751.1,512.5 L749.4,513.6 L747.7,514.7 L746.1,515.8 L744.4,517.0 L742.9,518.2 L741.3,519.4 L739.8,520.7 L738.3,522.1 L736.8,523.4 L735.4,524.8 L734.0,526.2 L732.6,527.6 L731.1,529.1 L729.7,530.5 L728.3,531.9 L726.9,533.3 L725.5,534.7 L724.0,536.2 L722.6,537.6 L721.2,539.0 L719.8,540.4 L718.4,541.8 L716.9,543.3 L715.5,544.7 L714.1,546.1 L712.7,547.5 L711.3,548.9 L709.9,550.3 L708.4,551.8 L707.0,553.2 L705.6,554.6 L704.2,556.0 L702.8,557.4 L701.3,558.9 L699.9,560.3 L698.5,561.7 L697.2,563.2 L695.8,564.6 L694.4,566.1 L693.1,567.6 L691.7,569.1 L690.4,570.6 L689.1,572.1 L687.7,573.6 L686.4,575.1 L685.1,576.6 L683.8,578.1 L682.5,579.6 L681.1,581.1 L679.8,582.6 L678.5,584.1 L677.2,585.6 L675.8,587.1 L674.5,588.6 L673.1,590.1 L671.7,591.5 L670.3,593.0 L668.9,594.4 L667.5,595.8 L666.1,597.2 L664.7,598.6 L663.2,600.1 L661.8,601.5 L660.4,602.9 L659.0,604.3 L657.6,605.7 L656.2,607.2 L654.8,608.6 L653.4,610.1 L652.0,611.5 L650.6,613.0 L649.3,614.5 L647.9,615.9 L646.6,617.4 L645.2,618.9 L643.9,620.4 L642.6,621.9 L641.2,623.4 L639.9,624.9 L638.6,626.4 L637.2,627.9 L635.9,629.4 L634.6,630.9 L633.2,632.4 L631.9,633.9 L630.6,635.4 L629.2,636.9 L627.9,638.4 L626.5,639.8 L625.2,641.3 L623.8,642.8 L622.4,644.3 L621.1,645.7 L619.7,647.2 L618.3,648.7 L617.0,650.1 L615.6,651.6 L614.2,653.1 L612.9,654.5 L611.5,656.0 L610.1,657.4 L608.6,658.8 L607.2,660.1 L605.6,661.4 L604.1,662.7 L602.5,663.9 L600.9,665.0 L599.2,666.2 L597.5,667.2 L595.8,668.3 L594.2,669.4 L592.5,670.5 L590.8,671.6 L589.1,672.7 L587.4,673.7 L585.7,674.8 L584.0,675.9 L582.3,676.9 L580.6,678.0 L578.9,679.0 L577.1,680.0 L575.4,681.1 L573.7,682.1 L572.0,683.1 L570.3,684.2 L568.6,685.2 L566.8,686.2 L565.1,687.3 L563.4,688.3 L561.7,689.3 L560.0,690.4 L558.2,691.4 L556.5,692.4 L554.8,693.4 L553.0,694.4 L551.3,695.4 L549.5,696.4 L547.8,697.3 L546.0,698.3 L544.2,699.3 L542.5,700.2 L540.7,701.2 L539.0,702.1 L537.2,703.1 L535.4,704.0 L533.7,705.0 L531.9,706.0 L530.2,706.9 L528.4,707.9 L526.6,708.8 L524.9,709.8 L523.1,710.8 L521.4,711.8 L519.7,712.8 L518.0,713.9 L516.2,714.9 L514.5,716.0 L512.8,717.0 L511.1,718.1 L509.5,719.2 L507.8,720.3 L506.1,721.3 L504.4,722.4 L502.7,723.5 L501.0,724.6 L499.3,725.7 L497.6,726.7 L495.9,727.8 L494.2,728.9 L492.5,730.0 L490.8,731.0 L489.1,732.1 L487.4,733.1 L485.7,734.1 L484.0,735.1 L482.2,736.1 L480.5,737.1 L478.7,738.1 L477.0,739.0 L475.2,740.0 L473.4,741.0 L471.7,741.9 L469.9,742.9 L468.1,743.9 L466.4,744.8 L464.6,745.8 L462.9,746.7 L461.1,747.7 L459.3,748.7 L457.6,749.6 L455.8,750.6 L454.1,751.5 L452.3,752.5"/>
<path stroke="#00f" d="M451.0,779.0 L451.0,777.0 L451.0,775.0 L450.9,773.0 L450.9,771.0 L450.9,769.0 L450.9,767.0 L450.9,765.0 L450.9,763.0 L450.9,761.0 L450.9,759.0 L450.9,757.0 L450.9,755.0 L451.0,752.9 L451.0,750.9 L451.1,748.9 L451.2,746.9 L451.3,744.9 L451.4,742.9 L451.5,740.9 L451.6,738.9 L451.7,736.9 L451.7,734.9 L451.8,732.9 L451.9,730.9 L452.1,728.9 L452.2,726.9 L452.3,724.9 L452.5,722.9 L452.7,720.9 L452.9,718.9 L453.1,716.9 L453.3,715.0 L453.5,713.0 L453.7,711.0 L453.9,709.0 L454.1,707.0 L454.3,705.0 L454.5,703.0 L454.8,701.0 L455.0,699.0 L455.2,697.0 L455.4,695.0 L455.6,693.0 L455.8,691.0 L456.1,689.0 L456.3,687.1 L456.5,685.1 L456.7,683.1 L457.0,681.1 L457.2,679.1 L457.4,677.1 L457.6,675.1 L457.9,673.1 L458.1,671.1 L458.3,669.1 L458.5,667.1 L458.7,665.1 L459.0,663.2 L459.2,661.2 L459.4,659.2 L459.6,657.2 L459.9,655.2 L460.1,653.2 L460.3,651.2 L460.6,649.2 L460.8,647.2 L461.1,645.2 L461.3,643.2 L461.6,641.3 L461.8,639.3 L462.1,637.3 L462.3,635.3 L462.6,633.3 L462.8,631.3 L463.1,629.3 L463.4,627.3 L463.6,625.4 L463.9,623.4 L464.1,621.4 L464.4,619.4 L464.6,617.4 L464.9,615.4 L465.2,613.4 L465.4,611.4 L465.7,609.5 L466.0,607.5 L466.3,605.5 L466.6,603.5 L466.9,601.5 L467.2,599.5 L467.5,597.6 L467.8,595.6 L468.1,593.6 L468.4,591.6 L468.7,589.6 L469.1,587.7 L469.4,585.7 L469.7,583.7 L470.0,581.7 L470.3,579.8 L470.6,577.8 L470.9,575.8 L471.2,573.8 L471.6,571.8 L471.9,569.9 L472.2,567.9 L472.5,565.9 L472.8,563.9 L473.2,561.9 L473.5,560.0 L473.8,558.0 L474.2,556.0 L474.5,554.0 L474.9,552.1 L475.2,550.1 L475.6,548.1 L475.9,546.1 L476.3,544.2 L476.6,542.2 L477.0,540.2 L477.3,538.3 L477.7,536.3 L478.1,534.3 L478.4,532.3 L478.8,530.4 L479.1,528.4 L479.5,526.4 L479.8,524.4 L480.2,522.5 L480.5,520.5 L480.8,518.5 L481.1,516.5 L481.5,514.6 L481.8,512.6 L482.0,510.6 L482.3,508.6 L482.6,506.6 L482.9,504.6 L483.2,502.7 L483.5,500.7 L483.8,498.7 L484.1,496.7 L484.4,494.7 L484.7,492.8 L485.0,490.8 L485.3,488.8 L485.7,486.8 L486.0,484.8 L486.4,482.9 L486.8,480.9 L487.2,478.9 L487.6,477.0 L488.0,475.0 L488.4,473.1 L488.9,471.1 L489.3,469.2 L489.8,467.2 L490.2,465.3 L490.6,463.3 L491.1,461.3 L491.6,459.4 L492.0,457.4 L492.5,455.5 L493.0,453.6 L493.5,451.6 L494.0,449.7 L494.4,447.7 L494.9,445.8 L495.4,443.8 L495.9,441.9 L496.4,440.0 L496.9,438.0 L497.5,436.1 L498.0,434.1 L498.5,432.2 L499.1,430.3 L499.6,428.4 L500.2,426.4 L500.8,424.5 L501.4,422.6 L501.9,420.7 L502.5,418.8 L503.1,416.8 L503.7,414.9 L504.3,413.0 L504.9,411.1 L505.5,409.2 L506.1,407.3 L506.8,405.4 L507.4,403.5 L508.1,401.6 L508.7,399.7 L509.4,397.8 L510.1,395.9 L510.7,394.0 L511.4,392.1 L512.0,390.3 L512.7,388.4 L513.4,386.5 L514.0,384.6 L514.7,382.7 L515.3,380.8 L516.0,378.9 L516.6,377.0 L517.3,375.1 L517.9,373.2 L518.6,371.3 L519.3,369.4 L519.9,367.5 L520.6,365.7 L521.3,363.8 L522.0,361.9 L522.8,360.1 L523.6,358.2 L524.4,356.4 L525.2,354.6 L526.0,352.7 L526.9,350.9 L527.7,349.1 L528.6,347.3 L529.4,345.5 L530.3,343.7 L531.2,341.9 L532.0,340.1 L532.9,338.3 L533.8,336.5 L534.7,334.7 L535.6,332.9 L536.5,331.1 L537.4,329.3 L538.3,327.5 L539.2,325.7 L540.1,323.9 L541.0,322.2 L542.0,320.4 L543.0,318.7 L544.0,316.9 L545.0,315.2 L546.0,313.5 L547.1,311.8 L548.2,310.1 L549.2,308.4 L550.3,306.7 L551.3,305.0 L552.4,303.3 L553.4,301.6 L554.5,299.8 L555.5,298.1 L556.6,296.4 L557.6,294.7 L558.6,293.0 L559.6,291.3 L560.7,289.5 L561.7,287.8 L562.7,286.1 L563.7,284.3 L564.7,282.6 L565.7,280.9 L566.7,279.1 L567.7,277.4 L568.7,275.7 L569.7,273.9 L570.8,272.2 L571.8,270.5 L572.8,268.8 L573.9,267.1 L575.0,265.4 L576.0,263.7 L577.1,262.0 L578.2,260.3 L579.3,258.6 L580.4,256.9 L581.4,255.3 L582.5,253.6 L583.6,251.9 L584.7,250.2 L585.8,248.5 L586.9,246.8 L588.0,245.2 L589.1,243.5 L590.2,241.8 L591.3,240.2 L592.4,238.5 L593.5,236.8 L594.7,235.2 L595.8,233.5 L596.9,231.9 L598.0,230.2 L599.2,228.6 L600.3,226.9 L601.5,225.3 L602.6,223.6 L603.8,222.0 L604.9,220.3 L606.1,218.7 L607.3,217.1 L608.4,215.4 L609.6,213.8 L610.8,212.2 L611.9,210.6 L613.1,208.9 L614.3,207.3 L615.5,205.7 L616.7,204.1 L617.9,202.5 L619.1,200.9 L620.3,199.3 L621.5,197.7 L622.7,196.1 L623.9,194.5 L625.1,192.9 L626.4,191.3 L627.6,189.7 L628.8,188.2 L630.1,186.6 L631.3,185.0 L632.6,183.5 L633.8,181.9 L635.1,180.4 L636.4,178.8 L637.7,177.3 L638.9,175.7 L640.2,174.2 L641.5,172.7 L642.8,171.2 L644.2,169.6 L645.5,168.1 L646.8,166.6 L648.1,165.1 L649.5,163.6 L650.8,162.2 L652.2,160.7 L653.6,159.2 L654.9,157.8 L656.3,156.3 L657.7,154.9 L659.1,153.5 L660.6,152.1 L662.0,150.7 L663.4,149.3 L664.9,147.9 L666.3,146.5 L667.8,145.2 L669.3,143.8 L670.8,142.5 L672.3,141.1 L673.8,139.8 L675.3,138.5 L676.8,137.2 L678.4,135.9 L679.9,134.7 L681.5,133.4 L683.1,132.2 L684.7,131.0 L686.3,129.8 L687.9,128.6 L689.5,127.4 L691.2,126.3 L692.8,125.2 L694.5,124.1 L696.2,123.0 L697.9,121.9 L699.6,120.9 L701.3,119.9 L703.0,118.9 L704.8,117.9 L706.6,117.0 L708.4,116.1 L710.2,115.2 L712.0,114.4 L713.8,113.5 L715.6,112.7 L717.5,112.0 L719.4,111.3 L721.2,110.6 L723.1,110.0 L725.0,109.4 L727.0,108.8 L728.9,108.2 L730.8,107.7 L732.7,107.2 L734.7,106.8 L736.7,106.3 L738.6,105.9 L740.6,105.4 L742.5,105.0 L744.5,104.5 L746.4,104.1 L748.4,103.7 L750.3,103.2 L752.3,102.9 L754.3,102.5 L756.3,102.2 L758.2,102.0 L760.2,101.8 L762.2,101.6 L764.2,101.5 L766.2,101.4 L768.2,101.4 L770.2,101.5 L772.2,101.5 L774.2,101.6 L776.2,101.6 L778.2,101.8 L780.2,102.0 L782.2,102.2 L784.1,102.5 L786.1,102.9 L788.1,103.3 L790.0,103.7 L791.9,104.2 L793.9,104.7 L795.8,105.3 L797.7,105.9 L799.6,106.4 L801.6,106.9 L803.5,107.5 L805.4,108.0 L807.4,108.5 L809.3,109.0 L811.3,109.5 L813.2,110.0 L815.1,110.5 L817.1,111.1 L819.0,111.6 L820.9,112.1 L822.9,112.7 L824.8,113.2 L826.7,113.8 L828.6,114.4 L830.5,115.0 L832.4,115.7 L834.3,116.4 L836.1,117.2 L837.9,118.0 L839.8,118.8 L841.6,119.6 L843.4,120.5 L845.2,121.4 L847.0,122.3 L848.8,123.1 L850.6,124.0 L852.4,124.8 L854.3,125.6 L856.1,126.3 L858.0,127.1 L859.8,127.8 L861.7,128.6 L863.6,129.3 L865.4,130.1 L867.3,130.8 L869.1,131.5 L871.0,132.3 L872.9,133.0 L874.7,133.8 L876.6,134.5 L878.4,135.3 L880.3,136.1 L882.1,136.9 L884.0,137.7 L885.8,138.5 L887.6,139.3 L889.5,140.1 L891.3,140.9 L893.1,141.7 L895.0,142.5 L896.8,143.4 L898.6,144.2 L900.4,145.0 L902.3,145.8 L904.1,146.6 L905.9,147.5 L907.8,148.3 L909.6,149.1 L911.4,150.0 L913.2,150.9 L915.0,151.7 L916.8,152.6 L918.6,153.5 L920.4,154.4 L922.2,155.3 L924.0,156.2 L925.8,157.1 L927.6,158.0 L929.4,158.9 L931.1,159.8 L932.9,160.7 L934.7,161.6 L936.5,162.5 L938.3,163.4 L940.1,164.3 L941.9,165.1 L943.7,166.0 L945.5,166.9 L947.3,167.8 L949.1,168.7 L950.9,169.6 L952.7,170.5 L954.4,171.4 L956.2,172.3 L958.0,173.2 L959.8,174.1 L961.6,175.0 L963.4,175.9 L965.2,176.8 L967.0,177.7 L968.8,178.6 L970.6,179.4 L972.4,180.3 L974.2,181.1 L976.1,182.0 L977.9,182.8 L979.7,183.6 L981.5,184.4 L983.4,185.2 L985.2,186.0 L987.1,186.8 L988.9,187.6 L990.7,188.4 L992.6,189.2 L994.4,190.0 L996.2,190.8 L998.1,191.6 L1000.0,192.3 L1001.8,193.0 L1003.7,193.6 L1005.6,194.2 L1007.6,194.7 L1009.5,195.2 L1011.4,195.7 L1013.4,196.1 L1015.4,196.5 L1017.3,196.9 L1019.3,197.3 L1021.3,197.6 L1023.2,197.9 L1025.2,198.2 L1027.2,198.4 L1029.2,198.6 L1031.2,198.8 L1033.2,198.9 L1035.2,199.0 L1037.2,199.0 L1039.2,199.1 L1041.2,199.1 L1043.2,199.1 L1045.2,199.2 L1047.2,199.2 L1049.2,199.2 L1051.2,199.2 L1053.2,199.2 L1055.2,199.1 L1057.2,199.1 L1059.2,199.0 L1061.2,199.0 L1063.2,198.9 L1065.2,198.8 L1067.2,198.8 L1069.2,198.7 L1071.2,198.7 L1073.2,198.6 L1075.2,198.5 L1077.2,198.5 L1079.3,198.4 L1081.3,198.4 L1083.3,198.3 L1085.3,198.2 L1087.3,198.2 L1089.3,198.1 L1091.3,198.0 L1093.3,197.9 L1095.3,197.8 L1097.3,197.7 L1099.3,197.5 L1101.3,197.4 L1103.3,197.2 L1105.3,197.1 L1107.3,196.9 L1109.3,196.8 L1111.3,196.6 L1113.3,196.5 L1115.3,196.3 L1117.3,196.2 L1119.3,196.0 L1121.3,195.9 L1123.3,195.7 L1125.3,195.6 L1127.3,195.5 L1129.3,195.3 L1131.3,195.2 L1133.3,195.1 L1135.3,195.1 L1137.3,195.0 L1139.3,194.9 L1141.3,194.9 L1143.3,194.9 L1145.3,194.9 L1147.3,194.8 L1149.3,194.8 L1151.3,194.8 L1153.3,194.8 L1155.3,194.7 L1157.3,194.7 L1159.3,194.7 L1161.3,194.7 L1163.3,194.7 L1165.3,194.8 L1167.3,194.9 L1169.3,195.0 L1171.3,195.2 L1173.3,195.3 L1175.3,195.6 L1177.3,195.8 L1179.3,196.0 L1181.3,196.2 L1183.2,196.5 L1185.2,196.7 L1187.2,196.9 L1189.2,197.2 L1191.2,197.4 L1193.2,197.6 L1195.2,197.9 L1197.2,198.1 L1199.2,198.4 L1201.1,198.7 L1203.1,199.1 L1205.1,199.4 L1207.1,199.8 L1209.0,200.2 L1211.0,200.6 L1212.9,201.0 L1214.9,201.4 L1216.9,201.8 L1218.8,202.2 L1220.8,202.6 L1222.8,203.0 L1224.7,203.4 L1226.7,203.8 L1228.7,204.2 L1230.6,204.5 L1232.6,204.9 L1234.6,205.2 L1236.6,205.6 L1238.5,205.9 L1240.5,206.2 L1242.5,206.5 L1244.5,206.8 L1246.4,207.1 L1248.4,207.5 L1250.4,207.9 L1252.3,208.3 L1254.3,208.7 L1256.2,209.2 L1258.2,209.7 L1260.1,210.2 L1262.0,210.8 L1264.0,211.3 L1265.9,211.8 L1267.8,212.3 L1269.8,212.9 L1271.7,213.4 L1273.6,213.9 L1275.6,214.4 L1277.5,214.9 L1279.5,215.4 L1281.4,215.9 L1283.3,216.4 L1285.3,216.9 L1287.2,217.4 L1289.2,217.9 L1291.1,218.4 L1293.1,218.9 L1295.0,219.4 L1296.9,219.9 L1298.9,220.3 L1300.8,220.8 L1302.8,221.3 L1304.7,221.7 L1306.7,222.2 L1308.6,222.6 L1310.6,223.1 L1312.6,223.5 L1314.5,223.9 L1316.5,224.3 L1318.4,224.7 L1320.4,225.1 L1322.4,225.6 L1324.3,226.0 L1326.3,226.4 L1328.3,226.8 L1330.2,227.2 L1332.2,227.5 L1334.2,227.9 L1336.1,228.3 L1338.1,228.6 L1340.1,229.0 L1342.0,229.3 L1344.0,229.6 L1346.0,230.0 L1348.0,230.3 L1350.0,230.6 L1351.9,231.0 L1353.9,231.3 L1355.9,231.6 L1357.9,232.0 L1359.8,232.3 L1361.8,232.6 L1363.8,232.9 L1365.8,233.3 L1367.8,233.6 L1369.7,233.9 L1371.7,234.2 L1373.7,234.5 L1375.7,234.8 L1377.7,235.1 L1379.6,235.4 L1381.6,235.7 L1383.6,236.0 L1385.6,236.3 L1387.6,236.7 L1389.5,237.0 L1391.5,237.3 L1393.5,237.6 L1395.5,238.0 L1397.4,238.3 L1399.4,238.6 L1401.4,239.0 L1403.4,239.3 L1405.3,239.6 L1407.3,240.0 L1409.3,240.3 M1409.3,240.3 L1408.6,242.2 L1407.9,244.1 L1407.2,245.9 L1406.5,247.8 L1405.8,249.7 L1405.0,251.5 L1404.2,253.4 L1403.4,255.2 L1402.5,257.0 L1401.6,258.7 L1400.6,260.4 L1399.5,262.1 L1398.3,263.7 L1397.1,265.2 L1395.8,266.8 L1394.5,268.2 L1393.1,269.7 L1391.6,271.1 L1390.2,272.4 L1388.7,273.8 L1387.2,275.1 L1385.7,276.4 L1384.1,277.7 L1382.6,279.0 L1381.0,280.2 L1379.5,281.5 L1377.9,282.7 L1376.3,283.9 L1374.7,285.1 L1373.0,286.3 L1371.4,287.4 L1369.8,288.6 L1368.1,289.7 L1366.4,290.8 L1364.7,291.9 L1363.0,292.9 L1361.3,294.0 L1359.6,295.0 L1357.9,296.0 L1356.1,297.0 L1354.4,298.0 L1352.6,298.9 L1350.8,299.8 L1349.0,300.7 L1347.2,301.5 L1345.4,302.4 L1343.6,303.2 L1341.7,304.0 L1339.9,304.8 L1338.0,305.5 L1336.2,306.3 L1334.3,307.0 L1332.4,307.8 L1330.6,308.5 L1328.7,309.2 L1326.8,310.0 L1325.0,310.7 L1323.1,311.5 L1321.3,312.2 L1319.4,312.9 L1317.5,313.7 L1315.7,314.4 L1313.8,315.1 L1311.9,315.9 L1310.1,316.6 L1308.2,317.3 L1306.3,318.0 L1304.4,318.7 L1302.6,319.4 L1300.7,320.1 L1298.8,320.8 L1296.9,321.4 L1295.0,322.0 L1293.1,322.7 L1291.2,323.3 L1289.2,323.9 L1287.3,324.5 L1285.4,325.1 L1283.5,325.7 L1281.6,326.2 L1279.7,326.8 L1277.7,327.3 L1275.8,327.8 L1273.8,328.3 L1271.9,328.7 L1269.9,329.2 L1268.0,329.6 L1266.0,330.0 L1264.1,330.5 L1262.1,330.9 L1260.1,331.3 L1258.2,331.7 L1256.2,332.2 L1254.3,332.6 L1252.3,333.0 L1250.3,333.4 L1248.4,333.9 L1246.4,334.3 L1244.5,334.7 L1242.5,335.2 L1240.6,335.6 L1238.6,336.0 L1236.6,336.5 L1234.7,336.9 L1232.7,337.4 L1230.8,337.9 L1228.8,338.3 L1226.9,338.8 L1224.9,339.3 L1223.0,339.7 L1221.0,340.2 L1219.1,340.6 L1217.1,341.1 L1215.2,341.6 L1213.2,342.0 L1211.3,342.5 L1209.3,343.0 L1207.4,343.4 L1205.4,343.9 L1203.5,344.4 L1201.5,344.8 L1199.6,345.3 L1197.6,345.8 L1195.7,346.2 L1193.7,346.7 L1191.8,347.2 L1189.9,347.7 L1187.9,348.2 L1186.0,348.7 L1184.0,349.3 L1182.1,349.8 L1180.2,350.3 L1178.2,350.8 L1176.3,351.4 L1174.4,351.9 L1172.4,352.4 L1170.5,352.9 L1168.6,353.5 L1166.6,354.0 L1164.7,354.5 L1162.8,355.0 L1160.8,355.5 L1158.9,356.1 L1156.9,356.6 L1155.0,357.1 L1153.1,357.6 L1151.1,358.2 L1149.2,358.7 L1147.3,359.3 L1145.4,359.8 L1143.4,360.4 L1141.5,361.0 L1139.6,361.6 L1137.7,362.2 L1135.8,362.8 L1133.9,363.3 L1131.9,363.9 L1130.0,364.5 L1128.1,365.1 L1126.2,365.7 L1124.3,366.3 L1122.4,366.9 L1120.5,367.5 L1118.5,368.1 L1116.6,368.7 L1114.7,369.3 L1112.8,369.9 L1110.9,370.5 L1109.0,371.1 L1107.1,371.7 L1105.1,372.3 L1103.2,372.9 L1101.3,373.4 L1099.4,374.0 L1097.4,374.5 L1095.5,375.1 L1093.6,375.6 L1091.6,376.1 L1089.7,376.6 L1087.8,377.1 L1085.8,377.6 L1083.9,378.1 L1081.9,378.6 L1080.0,379.1 L1078.1,379.6 L1076.1,380.2 L1074.2,380.7 L1072.2,381.2 L1070.3,381.7 L1068.4,382.2 L1066.4,382.7 L1064.5,383.2 L1062.5,383.7 L1060.6,384.2 L1058.7,384.7 L1056.7,385.2 L1054.8,385.7 L1052.8,386.2 L1050.9,386.7 L1048.9,387.2 L1047.0,387.7 L1045.1,388.1 L1043.1,388.6 L1041.1,389.0 L1039.2,389.5 L1037.2,389.9 L1035.3,390.4 L1033.3,390.8 L1031.4,391.3 L1029.4,391.7 L1027.5,392.2 L1025.5,392.6 L1023.6,393.1 L1021.6,393.5 L1019.7,394.0 L1017.7,394.4 L1015.7,394.9 L1013.8,395.3 L1011.8,395.8 L1009.9,396.2 L1007.9,396.7 L1006.0,397.1 L1004.0,397.6 L1002.1,398.0 L1000.1,398.4 L998.1,398.8 L996.2,399.2 L994.2,399.6 L992.2,400.0 L990.3,400.4 L988.3,400.7 L986.3,401.1 L984.4,401.5 L982.4,401.9 L980.4,402.2 L978.5,402.6 L976.5,403.0 L974.5,403.4 L972.5,403.7 L970.6,404.1 L968.6,404.5 L966.6,404.9 L964.7,405.2 L962.7,405.6 L960.7,406.0 L958.8,406.4 L956.8,406.8 L954.8,407.1 L952.8,407.5 L950.9,407.9 L948.9,408.3 L947.0,408.7 L945.0,409.1 L943.0,409.5 L941.1,410.0 L939.1,410.5 L937.2,411.0 L935.3,411.5 L933.3,412.0 L931.4,412.6 L929.5,413.1 L927.5,413.6 L925.6,414.2 L923.7,414.7 L921.7,415.3 L919.8,415.8 L917.9,416.3 L916.0,416.9 L914.0,417.4 L912.1,418.0 L910.2,418.5 L908.2,419.0 L906.3,419.6 L904.4,420.1 L902.4,420.7 L900.5,421.2 L898.6,421.8 L896.7,422.4 L894.8,423.0 L892.9,423.6 L890.9,424.2 L889.0,424.8 L887.1,425.5 L885.2,426.1 L883.3,426.7 L881.4,427.4 L879.5,428.0 L877.6,428.7 L875.7,429.3 L873.8,429.9 L871.9,430.6 L870.0,431.2 L868.1,431.9 L866.2,432.5 L864.3,433.2 L862.4,433.8 L860.5,434.4 L858.6,435.1 L856.7,435.7 L854.9,436.4 L853.0,437.1 L851.1,437.8 L849.2,438.5 L847.4,439.2 L845.5,440.0 L843.6,440.7 L841.8,441.5 L840.0,442.3 L838.1,443.1 L836.3,443.9 L834.4,444.7 L832.6,445.4 L830.7,446.2 L828.9,447.0 L827.0,447.8 L825.2,448.6 L823.4,449.4 L821.5,450.2 L819.7,451.0 L817.8,451.7 L816.0,452.5 L814.1,453.3 L812.3,454.1 L810.5,454.9 L808.6,455.7 L806.8,456.5 L805.0,457.4 L803.2,458.3 L801.4,459.1 L799.6,460.1 L797.8,461.0 L796.1,461.9 L794.3,462.9 L792.6,463.9 L790.8,464.8 L789.0,465.8 L787.3,466.8 L785.5,467.8 L783.8,468.7 L782.0,469.7 L780.3,470.7 L778.5,471.6 L776.8,472.6 L775.0,473.6 L773.3,474.6 L771.6,475.6 L769.8,476.6 L768.1,477.7 L766.4,478.7 L764.7,479.8 L763.0,480.8 L761.3,481.9 L759.6,482.9 L757.9,484.0 L756.2,485.0 L754.5,486.1 L752.7,487.1 L751.0,488.2 L749.3,489.2 L747.6,490.3 L746.0,491.4 L744.3,492.5 L742.6,493.6 L741.0,494.8 L739.4,495.9 L737.8,497.1 L736.2,498.4 L734.6,499.6 L733.0,500.8 L731.5,502.1 L729.9,503.3 L728.3,504.6 L726.8,505.8 L725.2,507.1 L723.6,508.3 L722.1,509.6 L720.5,510.9 L718.9,512.1 L717.4,513.4 L715.8,514.6 L714.3,515.9 L712.8,517.2 L711.3,518.6 L709.8,519.9 L708.3,521.3 L706.9,522.7 L705.5,524.1 L704.1,525.5 L702.7,527.0 L701.3,528.4 L699.9,529.8 L698.5,531.3 L697.1,532.7 L695.7,534.2 L694.3,535.6 L692.9,537.0 L691.5,538.5 L690.1,539.9 L688.8,541.4 L687.4,542.8 L686.0,544.3 L684.7,545.8 L683.3,547.3 L682.0,548.8 L680.7,550.3 L679.4,551.8 L678.2,553.4 L676.9,555.0 L675.7,556.5 L674.4,558.1 L673.1,559.6 L671.9,561.2 L670.6,562.8 L669.4,564.3 L668.1,565.9 L666.9,567.5 L665.6,569.0 L664.3,570.6 L663.1,572.1 L661.8,573.7 L660.5,575.2 L659.2,576.7 L657.9,578.2 L656.6,579.8 L655.3,581.3 L653.9,582.8 L652.6,584.3 L651.3,585.8 L650.0,587.3 L648.7,588.8 L647.3,590.3 L646.0,591.8 L644.7,593.3 L643.4,594.9 L642.1,596.4 L640.7,597.9 L639.4,599.4 L638.1,600.9 L636.8,602.4 L635.4,603.9 L634.1,605.4 L632.8,606.9 L631.5,608.4 L630.1,609.9 L628.8,611.4 L627.5,612.9 L626.2,614.4 L624.8,615.9 L623.5,617.4 L622.2,618.9 L620.8,620.4 L619.5,621.9 L618.1,623.3 L616.7,624.8 L615.3,626.2 L613.9,627.7 L612.5,629.1 L611.1,630.5 L609.7,632.0 L608.3,633.4 L606.9,634.8 L605.5,636.2 L604.1,637.7 L602.6,639.1 L601.2,640.5 L599.8,641.9 L598.4,643.4 L597.0,644.8 L595.6,646.2 L594.2,647.7 L592.8,649.1 L591.4,650.6 L590.1,652.0 L588.7,653.5 L587.3,654.9 L586.0,656.4 L584.6,657.9 L583.2,659.3 L581.8,660.8 L580.5,662.3 L579.1,663.7 L577.7,665.2 L576.4,666.6 L575.0,668.1 L573.6,669.5 L572.2,670.9 L570.7,672.4 L569.3,673.8 L567.9,675.2 L566.4,676.6 L565.0,677.9 L563.5,679.3 L562.1,680.7 L560.6,682.1 L559.2,683.5 L557.7,684.8 L556.2,686.2 L554.8,687.6 L553.3,689.0 L551.9,690.4 L550.4,691.7 L549.0,693.1 L547.5,694.5 L546.1,695.9 L544.6,697.2 L543.1,698.6 L541.7,700.0 L540.2,701.3 L538.7,702.7 L537.3,704.1 L535.8,705.4 L534.3,706.8 L532.8,708.1 L531.3,709.5 L529.8,710.8 L528.4,712.2 L526.9,713.5 L525.4,714.9 L523.9,716.2 L522.4,717.6 L521.0,718.9 L519.5,720.3 L518.0,721.6 L516.5,723.0 L515.0,724.3 L513.5,725.7 L512.1,727.0 L510.6,728.4 L509.1,729.7 L507.6,731.0 L506.1,732.4 L504.6,733.7 L503.1,735.0 L501.6,736.3 L500.0,737.6 L498.5,738.9 L497.0,740.3 L495.5,741.6 L494.0,742.9 L492.5,744.2 L490.9,745.5 L489.4,746.8 L487.9,748.1 L486.4,749.5 L484.9,750.8 L483.4,752.1 L481.8,753.4 L480.3,754.7 L478.8,756.0 L477.2,757.3 L475.7,758.5 L474.2,759.8 L472.6,761.1 L471.1,762.4 L469.5,763.7 L468.0,764.9 L466.4,766.2 L464.9,767.5 L463.4,768.8 L461.8,770.1 L460.3,771.3 L458.7,772.6 L457.2,773.9 L455.6,775.2 L454.1,776.4 L452.5,777.7 L451.0,779.0"/>
</g>
<g stroke="#000" stroke-width="6" stroke-linecap="butt">
<line x1="335.5" y1="814" x2="353.5" y2="814"/>
<line x1="335.5" y1="693.1" x2="353.5" y2="693.1"/>
<line x1="335.5" y1="572.2" x2="353.5" y2="572.2"/>
<line x1="335.5" y1="451.2" x2="353.5" y2="451.2"/>
<line x1="335.5" y1="330.3" x2="353.5" y2="330.3"/>
<line x1="335.5" y1="209.4" x2="353.5" y2="209.4"/>
<line x1="335.5" y1="88.4" x2="353.5" y2="88.4"/>
<line x1="343.5" y1="874.5" x2="353.5" y2="874.5"/>
<line x1="343.5" y1="753.6" x2="353.5" y2="753.6"/>
<line x1="343.5" y1="632.6" x2="353.5" y2="632.6"/>
<line x1="343.5" y1="511.7" x2="353.5" y2="511.7"/>
<line x1="343.5" y1="390.8" x2="353.5" y2="390.8"/>
<line x1="343.5" y1="269.8" x2="353.5" y2="269.8"/>
<line x1="343.5" y1="148.9" x2="353.5" y2="148.9"/>
<line x1="343.5" y1="28" x2="353.5" y2="28"/>
<line x1="449.5" y1="874.5" x2="449.5" y2="892.5"/>
<line x1="641.6" y1="874.5" x2="641.6" y2="892.5"/>
<line x1="833.6" y1="874.5" x2="833.6" y2="892.5"/>
<line x1="1025.7" y1="874.5" x2="1025.7" y2="892.5"/>
<line x1="1217.8" y1="874.5" x2="1217.8" y2="892.5"/>
<line x1="1409.8" y1="874.5" x2="1409.8" y2="892.5"/>
<line x1="353.5" y1="874.5" x2="353.5" y2="884.5"/>
<line x1="545.6" y1="874.5" x2="545.6" y2="884.5"/>
<line x1="737.6" y1="874.5" x2="737.6" y2="884.5"/>
<line x1="929.7" y1="874.5" x2="929.7" y2="884.5"/>
<line x1="1121.7" y1="874.5" x2="1121.7" y2="884.5"/>
<line x1="1313.8" y1="874.5" x2="1313.8" y2="884.5"/>
<line x1="1505.9" y1="874.5" x2="1505.9" y2="884.5"/>
</g>
<rect x="353.5" y="27.5" width="1153" height="847" fill="none" stroke="#000" stroke-width="7" stroke-linejoin="round"/>
<text transform="translate(326.5,826) scale(0.95,1)" font-family="'Liberation Sans', Arial, sans-serif" font-size="44.5" text-anchor="end" stroke="#000" stroke-width="1.0"><tspan stroke-width="2.6">-</tspan>0.4</text>
<text transform="translate(326.5,705.1) scale(0.95,1)" font-family="'Liberation Sans', Arial, sans-serif" font-size="44.5" text-anchor="end" stroke="#000" stroke-width="1.0"><tspan stroke-width="2.6">-</tspan>0.3</text>
<text transform="translate(326.5,584.2) scale(0.95,1)" font-family="'Liberation Sans', Arial, sans-serif" font-size="44.5" text-anchor="end" stroke="#000" stroke-width="1.0"><tspan stroke-width="2.6">-</tspan>0.2</text>
<text transform="translate(326.5,463.2) scale(0.95,1)" font-family="'Liberation Sans', Arial, sans-serif" font-size="44.5" text-anchor="end" stroke="#000" stroke-width="1.0"><tspan stroke-width="2.6">-</tspan>0.1</text>
<text transform="translate(326.5,342.3) scale(0.95,1)" font-family="'Liberation Sans', Arial, sans-serif" font-size="44.5" text-anchor="end" stroke="#000" stroke-width="1.0">0.0</text>
<text transform="translate(326.5,221.4) scale(0.95,1)" font-family="'Liberation Sans', Arial, sans-serif" font-size="44.5" text-anchor="end" stroke="#000" stroke-width="1.0">0.1</text>
<text transform="translate(326.5,100.4) scale(0.95,1)" font-family="'Liberation Sans', Arial, sans-serif" font-size="44.5" text-anchor="end" stroke="#000" stroke-width="1.0">0.2</text>
<text transform="translate(449.5,932.5) scale(0.95,1)" font-family="'Liberation Sans', Arial, sans-serif" font-size="44.5" text-anchor="middle" stroke="#000" stroke-width="1.0">0.2</text>
<text transform="translate(641.6,932.5) scale(0.95,1)" font-family="'Liberation Sans', Arial, sans-serif" font-size="44.5" text-anchor="middle" stroke="#000" stroke-width="1.0">0.4</text>
<text transform="translate(833.6,932.5) scale(0.95,1)" font-family="'Liberation Sans', Arial, sans-serif" font-size="44.5" text-anchor="middle" stroke="#000" stroke-width="1.0">0.6</text>
<text transform="translate(1025.7,932.5) scale(0.95,1)" font-family="'Liberation Sans', Arial, sans-serif" font-size="44.5" text-anchor="middle" stroke="#000" stroke-width="1.0">0.8</text>
<text transform="translate(1217.8,932.5) scale(0.95,1)" font-family="'Liberation Sans', Arial, sans-serif" font-size="44.5" text-anchor="middle" stroke="#000" stroke-width="1.0">1.0</text>
<text transform="translate(1409.8,932.5) scale(0.95,1)" font-family="'Liberation Sans', Arial, sans-serif" font-size="44.5" text-anchor="middle" stroke="#000" stroke-width="1.0">1.2</text>
<text x="0" y="0" font-family="'Liberation Serif', 'Times New Roman', serif" font-size="66.5" font-weight="bold" text-anchor="start" transform="translate(234.5,793.5) rotate(-90)">Current density (mA cm<tspan font-weight="normal" font-size="39" dy="-34">-2</tspan><tspan dy="34">)</tspan></text>
<text x="563.5" y="991" font-family="'Liberation Serif', 'Times New Roman', serif" font-size="65.3" font-weight="bold" text-anchor="start" >Potential (V vs Zn<tspan font-weight="normal" font-size="37" dy="-35">2+</tspan><tspan dy="35">/Zn)</tspan></text>
<text x="16.5" y="121.5" font-family="'Liberation Serif', 'Times New Roman', serif" font-size="122" font-weight="normal" text-anchor="start" >(a)</text>
<line x1="959" y1="563.5" x2="1050" y2="563.5" stroke="#00f" stroke-width="9" stroke-linecap="round"/>
<text transform="translate(1060,575.4) scale(1.0,1)" x="-0.6" y="0" font-family="'Liberation Serif', 'Times New Roman', serif" font-size="45" font-weight="bold" textLength="85.2" lengthAdjust="spacing">WO</text>
<text x="1142.4" y="594.4" font-family="'Liberation Serif', 'Times New Roman', serif" font-size="27" font-weight="normal" text-anchor="start" stroke="#000" stroke-width="0.5">3</text>
<text transform="translate(1172,575.4) scale(0.92,1)" x="-1.2" y="0" font-family="'Liberation Serif', 'Times New Roman', serif" font-size="45" font-weight="bold" textLength="230.2" lengthAdjust="spacing">nanoblock</text>
<line x1="959" y1="637.8" x2="1050" y2="637.8" stroke="#f00" stroke-width="9" stroke-linecap="round"/>
<text transform="translate(1060,650.3) scale(1.0,1)" x="-0.6" y="0" font-family="'Liberation Serif', 'Times New Roman', serif" font-size="45" font-weight="bold" textLength="85.2" lengthAdjust="spacing">WO</text>
<text x="1142.4" y="669.3" font-family="'Liberation Serif', 'Times New Roman', serif" font-size="27" font-weight="normal" text-anchor="start" stroke="#000" stroke-width="0.5">3</text>
<text transform="translate(1172,650.3) scale(0.92,1)" x="-1.2" y="0" font-family="'Liberation Serif', 'Times New Roman', serif" font-size="45" font-weight="bold" textLength="219.9" lengthAdjust="spacing">nanosheet</text>
<line x1="959" y1="712.8" x2="1050" y2="712.8" stroke="#000" stroke-width="9" stroke-linecap="round"/>
<text transform="translate(1060,725.6) scale(1.0,1)" x="-0.6" y="0" font-family="'Liberation Serif', 'Times New Roman', serif" font-size="45" font-weight="bold" textLength="85.2" lengthAdjust="spacing">WO</text>
<text x="1142.4" y="744.6" font-family="'Liberation Serif', 'Times New Roman', serif" font-size="27" font-weight="normal" text-anchor="start" stroke="#000" stroke-width="0.5">3</text>
<text transform="translate(1172,725.6) scale(0.92,1)" x="-1.2" y="0" font-family="'Liberation Serif', 'Times New Roman', serif" font-size="45" font-weight="bold" textLength="254.7" lengthAdjust="spacing">nanoribbon</text>
<g fill="none" stroke-width="9" stroke-linejoin="round" stroke-linecap="butt">
<path stroke="#00f" d="M483,1819.7 L700,1816.5 L898,1813 L901.5,1800 L902.5,1131 L902.5,1131 C903,1135.8 904.6,1137.2 905.5,1160 C906.4,1182.8 907.2,1236 908,1268 C908.8,1300 909.2,1327.5 910,1352 C910.8,1376.5 911.8,1396.7 912.5,1415 C913.2,1433.3 913.2,1443.6 914,1461.6 C914.8,1479.6 915.9,1502.7 917.1,1523.2 C918.3,1543.7 919.8,1564.3 921.4,1584.8 C923,1605.3 924.8,1628.3 927,1646.3 C929.2,1664.2 931.6,1678.1 934.7,1692.5 C937.8,1706.9 941.4,1721.6 945.5,1732.6 C949.6,1743.6 954.2,1751.8 959.3,1758.7 C964.4,1765.6 969.9,1770 976.3,1774.1 C982.7,1778.2 989.1,1780.8 997.8,1783.4 C1006.5,1786 1014.7,1787.8 1028.6,1789.5 C1042.4,1791.2 1059.4,1792.6 1080.9,1793.5 C1102.5,1794.4 1129.7,1794.6 1157.9,1795.1 C1186.1,1795.6 1220,1795.9 1250,1796.3 C1280,1796.7 1323.3,1797.1 1338,1797.3"/>
<path stroke="#f00" d="M491,1810 L700,1808 L897,1806 L899.5,1795 L900.5,1242 L900.5,1242 C901.2,1288.9 903.7,1466.1 904.8,1523.2 C905.9,1580.3 906.1,1564.3 907,1584.8 C907.9,1605.3 908.6,1628.3 910,1646.3 C911.4,1664.2 913.2,1679.2 915.3,1692.5 C917.4,1705.8 919.8,1716.1 922.4,1726.4 C925,1736.7 927.4,1746.4 930.7,1754.1 C934,1761.8 937.9,1767.7 942.4,1772.6 C946.9,1777.5 951.6,1780.6 957.8,1783.4 C963.9,1786.2 970.6,1787.8 979.3,1789.5 C988,1791.2 995.7,1792.5 1010.1,1793.5 C1024.5,1794.5 1040.9,1795.1 1065.5,1795.7 C1090.1,1796.3 1127.2,1796.7 1157.9,1797.2 C1188.7,1797.8 1208.8,1798.1 1250,1799 C1291.2,1799.9 1379.2,1801.9 1405,1802.5"/>
<path stroke="#000" d="M575,1815 L750,1811.5 L895,1808 L896.5,1795 L897.7,1547 L897.7,1547 C898.2,1558.4 899.9,1593.9 900.8,1615.6 C901.7,1637.3 902.2,1657.6 903,1677.1 C903.8,1696.6 904.2,1718.2 905.4,1732.6 C906.6,1747 907.7,1754.7 910,1763.4 C912.3,1772.1 915.4,1779.5 919.3,1784.9 C923.1,1790.3 926.7,1793.1 933.1,1795.7 C939.5,1798.3 946,1799.3 957.8,1800.3 C969.6,1801.3 986,1801.3 1004,1801.8 C1022,1802.3 1024.5,1803.1 1065.5,1803.4 C1106.5,1803.7 1207.4,1803.5 1250,1803.4 C1292.6,1803.3 1309.2,1803.1 1321,1803"/>
</g>
<g stroke="#000" stroke-width="6" stroke-linecap="butt">
<line x1="336.3" y1="1916.4" x2="354.3" y2="1916.4"/>
<line x1="336.3" y1="1803.8" x2="354.3" y2="1803.8"/>
<line x1="336.3" y1="1691.2" x2="354.3" y2="1691.2"/>
<line x1="336.3" y1="1578.6" x2="354.3" y2="1578.6"/>
<line x1="336.3" y1="1466" x2="354.3" y2="1466"/>
<line x1="336.3" y1="1353.4" x2="354.3" y2="1353.4"/>
<line x1="336.3" y1="1240.8" x2="354.3" y2="1240.8"/>
<line x1="336.3" y1="1128.2" x2="354.3" y2="1128.2"/>
<line x1="344.3" y1="1860.1" x2="354.3" y2="1860.1"/>
<line x1="344.3" y1="1747.5" x2="354.3" y2="1747.5"/>
<line x1="344.3" y1="1634.9" x2="354.3" y2="1634.9"/>
<line x1="344.3" y1="1522.3" x2="354.3" y2="1522.3"/>
<line x1="344.3" y1="1409.7" x2="354.3" y2="1409.7"/>
<line x1="344.3" y1="1297.1" x2="354.3" y2="1297.1"/>
<line x1="344.3" y1="1184.5" x2="354.3" y2="1184.5"/>
<line x1="344.3" y1="1071.9" x2="354.3" y2="1071.9"/>
<line x1="354.3" y1="1916.6" x2="354.3" y2="1934.6"/>
<line x1="498.3" y1="1916.6" x2="498.3" y2="1934.6"/>
<line x1="642.4" y1="1916.6" x2="642.4" y2="1934.6"/>
<line x1="786.4" y1="1916.6" x2="786.4" y2="1934.6"/>
<line x1="930.4" y1="1916.6" x2="930.4" y2="1934.6"/>
<line x1="1074.4" y1="1916.6" x2="1074.4" y2="1934.6"/>
<line x1="1218.5" y1="1916.6" x2="1218.5" y2="1934.6"/>
<line x1="1362.5" y1="1916.6" x2="1362.5" y2="1934.6"/>
<line x1="1506.5" y1="1916.6" x2="1506.5" y2="1934.6"/>
<line x1="426.3" y1="1916.6" x2="426.3" y2="1926.6"/>
<line x1="570.3" y1="1916.6" x2="570.3" y2="1926.6"/>
<line x1="714.4" y1="1916.6" x2="714.4" y2="1926.6"/>
<line x1="858.4" y1="1916.6" x2="858.4" y2="1926.6"/>
<line x1="1002.4" y1="1916.6" x2="1002.4" y2="1926.6"/>
<line x1="1146.4" y1="1916.6" x2="1146.4" y2="1926.6"/>
<line x1="1290.5" y1="1916.6" x2="1290.5" y2="1926.6"/>
<line x1="1434.5" y1="1916.6" x2="1434.5" y2="1926.6"/>
</g>
<rect x="354.3" y="1071" width="1152.2" height="845.6" fill="none" stroke="#000" stroke-width="7" stroke-linejoin="round"/>
<text transform="translate(326.5,1924.9) scale(0.98,1)" font-family="'Liberation Sans', Arial, sans-serif" font-size="41.8" text-anchor="end" stroke="#000" stroke-width="1.0"><tspan stroke-width="2.6">-</tspan>2</text>
<text transform="translate(326.5,1812.3) scale(0.98,1)" font-family="'Liberation Sans', Arial, sans-serif" font-size="41.8" text-anchor="end" stroke="#000" stroke-width="1.0">0</text>
<text transform="translate(326.5,1699.7) scale(0.98,1)" font-family="'Liberation Sans', Arial, sans-serif" font-size="41.8" text-anchor="end" stroke="#000" stroke-width="1.0">2</text>
<text transform="translate(326.5,1587.1) scale(0.98,1)" font-family="'Liberation Sans', Arial, sans-serif" font-size="41.8" text-anchor="end" stroke="#000" stroke-width="1.0">4</text>
<text transform="translate(326.5,1474.5) scale(0.98,1)" font-family="'Liberation Sans', Arial, sans-serif" font-size="41.8" text-anchor="end" stroke="#000" stroke-width="1.0">6</text>
<text transform="translate(326.5,1361.9) scale(0.98,1)" font-family="'Liberation Sans', Arial, sans-serif" font-size="41.8" text-anchor="end" stroke="#000" stroke-width="1.0">8</text>
<text transform="translate(326.5,1249.3) scale(0.98,1)" font-family="'Liberation Sans', Arial, sans-serif" font-size="41.8" text-anchor="end" stroke="#000" stroke-width="1.0">10</text>
<text transform="translate(326.5,1136.7) scale(0.98,1)" font-family="'Liberation Sans', Arial, sans-serif" font-size="41.8" text-anchor="end" stroke="#000" stroke-width="1.0">12</text>
<text transform="translate(354.3,1971.5) scale(0.98,1)" font-family="'Liberation Sans', Arial, sans-serif" font-size="41.8" text-anchor="middle" stroke="#000" stroke-width="1.0">20</text>
<text transform="translate(498.3,1971.5) scale(0.98,1)" font-family="'Liberation Sans', Arial, sans-serif" font-size="41.8" text-anchor="middle" stroke="#000" stroke-width="1.0">30</text>
<text transform="translate(642.4,1971.5) scale(0.98,1)" font-family="'Liberation Sans', Arial, sans-serif" font-size="41.8" text-anchor="middle" stroke="#000" stroke-width="1.0">40</text>
<text transform="translate(786.4,1971.5) scale(0.98,1)" font-family="'Liberation Sans', Arial, sans-serif" font-size="41.8" text-anchor="middle" stroke="#000" stroke-width="1.0">50</text>
<text transform="translate(930.4,1971.5) scale(0.98,1)" font-family="'Liberation Sans', Arial, sans-serif" font-size="41.8" text-anchor="middle" stroke="#000" stroke-width="1.0">60</text>
<text transform="translate(1074.4,1971.5) scale(0.98,1)" font-family="'Liberation Sans', Arial, sans-serif" font-size="41.8" text-anchor="middle" stroke="#000" stroke-width="1.0">70</text>
<text transform="translate(1218.5,1971.5) scale(0.98,1)" font-family="'Liberation Sans', Arial, sans-serif" font-size="41.8" text-anchor="middle" stroke="#000" stroke-width="1.0">80</text>
<text transform="translate(1362.5,1971.5) scale(0.98,1)" font-family="'Liberation Sans', Arial, sans-serif" font-size="41.8" text-anchor="middle" stroke="#000" stroke-width="1.0">90</text>
<text transform="translate(1506.5,1971.5) scale(0.98,1)" font-family="'Liberation Sans', Arial, sans-serif" font-size="41.8" text-anchor="middle" stroke="#000" stroke-width="1.0">100</text>
<text x="0" y="0" font-family="'Liberation Serif', 'Times New Roman', serif" font-size="66.5" font-weight="bold" text-anchor="start" transform="translate(253.5,1875) rotate(-90)">Current density (mA cm<tspan font-weight="normal" font-size="39" dy="-34">-2</tspan><tspan dy="34">)</tspan></text>
<text x="769.5" y="2034" font-family="'Liberation Serif', 'Times New Roman', serif" font-size="65" font-weight="bold" text-anchor="start" >Time (s)</text>
<text x="8.5" y="1156.7" font-family="'Liberation Serif', 'Times New Roman', serif" font-size="122" font-weight="normal" text-anchor="start" >(b)</text>
<line x1="995.5" y1="1184.7" x2="1086.5" y2="1184.7" stroke="#00f" stroke-width="9" stroke-linecap="round"/>
<text transform="translate(1096.4,1199.1) scale(1.0,1)" x="-0.6" y="0" font-family="'Liberation Serif', 'Times New Roman', serif" font-size="45" font-weight="bold" textLength="85.6" lengthAdjust="spacing">WO</text>
<text x="1179.2" y="1215.6" font-family="'Liberation Serif', 'Times New Roman', serif" font-size="25" font-weight="normal" text-anchor="start" stroke="#000" stroke-width="0.5">3</text>
<text transform="translate(1202.3,1199.1) scale(0.92,1)" x="-1.2" y="0" font-family="'Liberation Serif', 'Times New Roman', serif" font-size="45" font-weight="bold" textLength="230.9" lengthAdjust="spacing">nanoblock</text>
<line x1="995.5" y1="1260.1" x2="1086.5" y2="1260.1" stroke="#f00" stroke-width="9" stroke-linecap="round"/>
<text transform="translate(1098.4,1272.2) scale(1.0,1)" x="-0.6" y="0" font-family="'Liberation Serif', 'Times New Roman', serif" font-size="45" font-weight="bold" textLength="82.6" lengthAdjust="spacing">WO</text>
<text x="1181" y="1288.7" font-family="'Liberation Serif', 'Times New Roman', serif" font-size="25" font-weight="normal" text-anchor="start" stroke="#000" stroke-width="0.5">3</text>
<text transform="translate(1197.5,1272.2) scale(0.92,1)" x="-1.2" y="0" font-family="'Liberation Serif', 'Times New Roman', serif" font-size="45" font-weight="bold" textLength="220.2" lengthAdjust="spacing">nanosheet</text>
<line x1="995.5" y1="1333.8" x2="1086.5" y2="1333.8" stroke="#000" stroke-width="9" stroke-linecap="round"/>
<text transform="translate(1098.4,1345.3) scale(1.0,1)" x="-0.6" y="0" font-family="'Liberation Serif', 'Times New Roman', serif" font-size="45" font-weight="bold" textLength="82.6" lengthAdjust="spacing">WO</text>
<text x="1181" y="1361.8" font-family="'Liberation Serif', 'Times New Roman', serif" font-size="25" font-weight="normal" text-anchor="start" stroke="#000" stroke-width="0.5">3</text>
<text transform="translate(1202.3,1345.3) scale(0.92,1)" x="-1.2" y="0" font-family="'Liberation Serif', 'Times New Roman', serif" font-size="45" font-weight="bold" textLength="256.9" lengthAdjust="spacing">nanoribbon</text>
<defs><clipPath id="cclip"><rect x="354" y="2090" width="1152.5" height="847"/></clipPath></defs>
<g clip-path="url(#cclip)">
<rect x="445.2" y="2923.2" width="19.5" height="19.5" fill="#000"/>
<rect x="446.5" y="2919.7" width="19.5" height="19.5" fill="#000"/>
<rect x="447.9" y="2916" width="19.5" height="19.5" fill="#000"/>
<rect x="449.5" y="2912.7" width="19.5" height="19.5" fill="#000"/>
<rect x="451.4" y="2909.6" width="19.5" height="19.5" fill="#000"/>
<rect x="453.4" y="2906.5" width="19.5" height="19.5" fill="#000"/>
<rect x="455.6" y="2903.3" width="19.5" height="19.5" fill="#000"/>
<rect x="458.1" y="2900.3" width="19.5" height="19.5" fill="#000"/>
<rect x="460.7" y="2897.6" width="19.5" height="19.5" fill="#000"/>
<rect x="463.6" y="2895" width="19.5" height="19.5" fill="#000"/>
<rect x="466.3" y="2892.7" width="19.5" height="19.5" fill="#000"/>
<rect x="469.1" y="2890.5" width="19.5" height="19.5" fill="#000"/>
<rect x="472.2" y="2888.5" width="19.5" height="19.5" fill="#000"/>
<rect x="475.3" y="2886.7" width="19.5" height="19.5" fill="#000"/>
<rect x="478.7" y="2885" width="19.5" height="19.5" fill="#000"/>
<rect x="482.2" y="2883.4" width="19.5" height="19.5" fill="#000"/>
<rect x="485.8" y="2881.8" width="19.5" height="19.5" fill="#000"/>
<rect x="489.2" y="2880.6" width="19.5" height="19.5" fill="#000"/>
<rect x="492.7" y="2879.5" width="19.5" height="19.5" fill="#000"/>
<rect x="496.2" y="2878.5" width="19.5" height="19.5" fill="#000"/>
<rect x="499.7" y="2877.7" width="19.5" height="19.5" fill="#000"/>
<rect x="503.2" y="2877" width="19.5" height="19.5" fill="#000"/>
<rect x="506.7" y="2876.3" width="19.5" height="19.5" fill="#000"/>
<rect x="510.2" y="2875.7" width="19.5" height="19.5" fill="#000"/>
<rect x="514" y="2875" width="19.5" height="19.5" fill="#000"/>
<rect x="517.6" y="2874.4" width="19.5" height="19.5" fill="#000"/>
<rect x="528.5" y="2869.8" width="19.5" height="19.5" fill="#000"/>
<rect x="538.2" y="2865.2" width="19.5" height="19.5" fill="#000"/>
<rect x="548.8" y="2860.2" width="19.5" height="19.5" fill="#000"/>
<rect x="561.5" y="2852.8" width="19.5" height="19.5" fill="#000"/>
<rect x="572.5" y="2847.8" width="19.5" height="19.5" fill="#000"/>
<rect x="584" y="2840.1" width="19.5" height="19.5" fill="#000"/>
<rect x="596.2" y="2831.2" width="19.5" height="19.5" fill="#000"/>
<rect x="610.8" y="2820.2" width="19.5" height="19.5" fill="#000"/>
<rect x="625" y="2807.2" width="19.5" height="19.5" fill="#000"/>
<rect x="641.9" y="2792.4" width="19.5" height="19.5" fill="#000"/>
<rect x="658.5" y="2775.8" width="19.5" height="19.5" fill="#000"/>
<rect x="678" y="2756.9" width="19.5" height="19.5" fill="#000"/>
<rect x="702" y="2731.2" width="19.5" height="19.5" fill="#000"/>
<rect x="726.2" y="2706.8" width="19.5" height="19.5" fill="#000"/>
<rect x="754.8" y="2677.8" width="19.5" height="19.5" fill="#000"/>
<rect x="788.6" y="2642.8" width="19.5" height="19.5" fill="#000"/>
<rect x="827.5" y="2599.8" width="19.5" height="19.5" fill="#000"/>
<rect x="873.4" y="2552.3" width="19.5" height="19.5" fill="#000"/>
<rect x="921.2" y="2495.1" width="19.5" height="19.5" fill="#000"/>
<rect x="979.5" y="2431.1" width="19.5" height="19.5" fill="#000"/>
<rect x="1044.2" y="2354.4" width="19.5" height="19.5" fill="#000"/>
<rect x="1121.5" y="2268.4" width="19.5" height="19.5" fill="#000"/>
<rect x="1210.5" y="2168.3" width="19.5" height="19.5" fill="#000"/>
<circle cx="481" cy="2933" r="10" fill="#f00"/>
<circle cx="484.4" cy="2929.9" r="10" fill="#f00"/>
<circle cx="487.5" cy="2927.2" r="10" fill="#f00"/>
<circle cx="490.9" cy="2924.2" r="10" fill="#f00"/>
<circle cx="494.1" cy="2921.6" r="10" fill="#f00"/>
<circle cx="497.6" cy="2918.8" r="10" fill="#f00"/>
<circle cx="501.4" cy="2916" r="10" fill="#f00"/>
<circle cx="505.3" cy="2913.2" r="10" fill="#f00"/>
<circle cx="508.7" cy="2910.8" r="10" fill="#f00"/>
<circle cx="512.3" cy="2908.4" r="10" fill="#f00"/>
<circle cx="515.8" cy="2906.1" r="10" fill="#f00"/>
<circle cx="519.3" cy="2903.9" r="10" fill="#f00"/>
<circle cx="522.9" cy="2901.7" r="10" fill="#f00"/>
<circle cx="526.6" cy="2899.6" r="10" fill="#f00"/>
<circle cx="530.3" cy="2897.6" r="10" fill="#f00"/>
<circle cx="534" cy="2895.5" r="10" fill="#f00"/>
<circle cx="537.9" cy="2893.5" r="10" fill="#f00"/>
<circle cx="541.9" cy="2891.5" r="10" fill="#f00"/>
<circle cx="546" cy="2889.5" r="10" fill="#f00"/>
<circle cx="550" cy="2887.5" r="10" fill="#f00"/>
<circle cx="554" cy="2885.5" r="10" fill="#f00"/>
<circle cx="557.9" cy="2883.5" r="10" fill="#f00"/>
<circle cx="561.6" cy="2881.6" r="10" fill="#f00"/>
<circle cx="565.4" cy="2879.7" r="10" fill="#f00"/>
<circle cx="569.1" cy="2877.7" r="10" fill="#f00"/>
<circle cx="573" cy="2875.4" r="10" fill="#f00"/>
<circle cx="577" cy="2872.8" r="10" fill="#f00"/>
<circle cx="581.2" cy="2870" r="10" fill="#f00"/>
<circle cx="585.5" cy="2867" r="10" fill="#f00"/>
<circle cx="589.7" cy="2863.9" r="10" fill="#f00"/>
<circle cx="594" cy="2860.8" r="10" fill="#f00"/>
<circle cx="598.1" cy="2857.6" r="10" fill="#f00"/>
<circle cx="601.3" cy="2855.2" r="10" fill="#f00"/>
<circle cx="604.5" cy="2852.7" r="10" fill="#f00"/>
<circle cx="608.6" cy="2849.4" r="10" fill="#f00"/>
<circle cx="612.6" cy="2846.2" r="10" fill="#f00"/>
<circle cx="616.4" cy="2843.3" r="10" fill="#f00"/>
<circle cx="620.3" cy="2840.2" r="10" fill="#f00"/>
<circle cx="624.1" cy="2837.2" r="10" fill="#f00"/>
<circle cx="627.6" cy="2834.5" r="10" fill="#f00"/>
<circle cx="631" cy="2831.8" r="10" fill="#f00"/>
<circle cx="647.9" cy="2824.4" r="10" fill="#f00"/>
<circle cx="664.5" cy="2812" r="10" fill="#f00"/>
<circle cx="682.5" cy="2798.1" r="10" fill="#f00"/>
<circle cx="703.3" cy="2781.5" r="10" fill="#f00"/>
<circle cx="725.5" cy="2763.4" r="10" fill="#f00"/>
<circle cx="750.4" cy="2741.3" r="10" fill="#f00"/>
<circle cx="778.1" cy="2717.7" r="10" fill="#f00"/>
<circle cx="808.1" cy="2689.1" r="10" fill="#f00"/>
<circle cx="842.7" cy="2656.8" r="10" fill="#f00"/>
<circle cx="879.2" cy="2619.6" r="10" fill="#f00"/>
<circle cx="922.9" cy="2576" r="10" fill="#f00"/>
<circle cx="970.7" cy="2525.9" r="10" fill="#f00"/>
<circle cx="1025.4" cy="2466.7" r="10" fill="#f00"/>
<circle cx="1086.9" cy="2397.5" r="10" fill="#f00"/>
<circle cx="1158.1" cy="2319" r="10" fill="#f00"/>
<circle cx="1237.4" cy="2226.9" r="10" fill="#f00"/>
<circle cx="1328.3" cy="2120" r="10" fill="#f00"/>
<path d="M431,2920.5 L444,2941.5 L418,2941.5 Z" fill="#00f"/>
<path d="M433.4,2913.9 L446.4,2934.9 L420.4,2934.9 Z" fill="#00f"/>
<path d="M436.3,2906.9 L449.3,2927.9 L423.3,2927.9 Z" fill="#00f"/>
<path d="M439.8,2900.7 L452.8,2921.7 L426.8,2921.7 Z" fill="#00f"/>
<path d="M444,2894.9 L457,2915.9 L431,2915.9 Z" fill="#00f"/>
<path d="M449,2889.5 L462,2910.5 L436,2910.5 Z" fill="#00f"/>
<path d="M454.7,2885.1 L467.7,2906.1 L441.7,2906.1 Z" fill="#00f"/>
<path d="M460.9,2881.5 L473.9,2902.5 L447.9,2902.5 Z" fill="#00f"/>
<path d="M467.5,2878.7 L480.5,2899.7 L454.5,2899.7 Z" fill="#00f"/>
<path d="M474.6,2876.5 L487.6,2897.5 L461.6,2897.5 Z" fill="#00f"/>
<path d="M481.8,2875 L494.8,2896 L468.8,2896 Z" fill="#00f"/>
<path d="M488.9,2874.1 L501.9,2895.1 L475.9,2895.1 Z" fill="#00f"/>
<path d="M496,2873.8 L509,2894.8 L483,2894.8 Z" fill="#00f"/>
<path d="M503,2874 L516,2895 L490,2895 Z" fill="#00f"/>
<path d="M510.5,2874.6 L523.5,2895.6 L497.5,2895.6 Z" fill="#00f"/>
<path d="M517.6,2875.8 L530.6,2896.8 L504.6,2896.8 Z" fill="#00f"/>
<path d="M524.7,2877.2 L537.7,2898.2 L511.7,2898.2 Z" fill="#00f"/>
<path d="M531.7,2879 L544.7,2900 L518.7,2900 Z" fill="#00f"/>
<path d="M538.7,2881 L551.7,2902 L525.7,2902 Z" fill="#00f"/>
<path d="M545.4,2883.1 L558.4,2904.1 L532.4,2904.1 Z" fill="#00f"/>
<path d="M552.6,2884.9 L565.6,2905.9 L539.6,2905.9 Z" fill="#00f"/>
<path d="M559.9,2885.8 L572.9,2906.8 L546.9,2906.8 Z" fill="#00f"/>
<path d="M567.4,2886.2 L580.4,2907.2 L554.4,2907.2 Z" fill="#00f"/>
<path d="M574.5,2885.9 L587.5,2906.9 L561.5,2906.9 Z" fill="#00f"/>
<path d="M581.6,2884.7 L594.6,2905.7 L568.6,2905.7 Z" fill="#00f"/>
<path d="M588.1,2882.2 L601.1,2903.2 L575.1,2903.2 Z" fill="#00f"/>
<path d="M601.4,2873.7 L614.4,2894.7 L588.4,2894.7 Z" fill="#00f"/>
<path d="M609.4,2867.4 L622.4,2888.4 L596.4,2888.4 Z" fill="#00f"/>
<path d="M617.4,2861.3 L630.4,2882.3 L604.4,2882.3 Z" fill="#00f"/>
<path d="M625.6,2855.2 L638.6,2876.2 L612.6,2876.2 Z" fill="#00f"/>
<path d="M633.5,2848.6 L646.5,2869.6 L620.5,2869.6 Z" fill="#00f"/>
<path d="M641.4,2841.5 L654.4,2862.5 L628.4,2862.5 Z" fill="#00f"/>
<path d="M648.9,2834.5 L661.9,2855.5 L635.9,2855.5 Z" fill="#00f"/>
<path d="M664.6,2823.5 L677.6,2844.5 L651.6,2844.5 Z" fill="#00f"/>
<path d="M678.4,2812 L691.4,2833 L665.4,2833 Z" fill="#00f"/>
<path d="M694,2797.5 L707,2818.5 L681,2818.5 Z" fill="#00f"/>
<path d="M712,2782 L725,2803 L699,2803 Z" fill="#00f"/>
<path d="M732.4,2764 L745.4,2785 L719.4,2785 Z" fill="#00f"/>
<path d="M754.6,2743.2 L767.6,2764.2 L741.6,2764.2 Z" fill="#00f"/>
<path d="M779.5,2721.1 L792.5,2742.1 L766.5,2742.1 Z" fill="#00f"/>
<path d="M808.1,2693.8 L821.1,2714.8 L795.1,2714.8 Z" fill="#00f"/>
<path d="M840.5,2663.1 L853.5,2684.1 L827.5,2684.1 Z" fill="#00f"/>
<path d="M876,2627.5 L889,2648.5 L863,2648.5 Z" fill="#00f"/>
<path d="M917.1,2587.1 L930.1,2608.1 L904.1,2608.1 Z" fill="#00f"/>
<path d="M964.9,2541.9 L977.9,2562.9 L951.9,2562.9 Z" fill="#00f"/>
<path d="M1020.5,2489.2 L1033.5,2510.2 L1007.5,2510.2 Z" fill="#00f"/>
<path d="M1082.1,2429.8 L1095.1,2450.8 L1069.1,2450.8 Z" fill="#00f"/>
<path d="M1152.9,2362.9 L1165.9,2383.9 L1139.9,2383.9 Z" fill="#00f"/>
<path d="M1236.2,2286.9 L1249.2,2307.9 L1223.2,2307.9 Z" fill="#00f"/>
<path d="M1331,2200.8 L1344,2221.8 L1318,2221.8 Z" fill="#00f"/>
<path d="M1441.2,2108.3 L1454.2,2129.3 L1428.2,2129.3 Z" fill="#00f"/>
</g>
<g stroke="#000" stroke-width="6" stroke-linecap="butt">
<line x1="336" y1="2937" x2="354" y2="2937"/>
<line x1="336" y1="2767.6" x2="354" y2="2767.6"/>
<line x1="336" y1="2598.2" x2="354" y2="2598.2"/>
<line x1="336" y1="2428.8" x2="354" y2="2428.8"/>
<line x1="336" y1="2259.4" x2="354" y2="2259.4"/>
<line x1="336" y1="2090" x2="354" y2="2090"/>
<line x1="344" y1="2852.3" x2="354" y2="2852.3"/>
<line x1="344" y1="2682.9" x2="354" y2="2682.9"/>
<line x1="344" y1="2513.5" x2="354" y2="2513.5"/>
<line x1="344" y1="2344.1" x2="354" y2="2344.1"/>
<line x1="344" y1="2174.7" x2="354" y2="2174.7"/>
<line x1="458.6" y1="2937" x2="458.6" y2="2955"/>
<line x1="668" y1="2937" x2="668" y2="2955"/>
<line x1="877.2" y1="2937" x2="877.2" y2="2955"/>
<line x1="1086.5" y1="2937" x2="1086.5" y2="2955"/>
<line x1="1295.8" y1="2937" x2="1295.8" y2="2955"/>
<line x1="1505.2" y1="2937" x2="1505.2" y2="2955"/>
<line x1="354" y1="2937" x2="354" y2="2947"/>
<line x1="563.3" y1="2937" x2="563.3" y2="2947"/>
<line x1="772.6" y1="2937" x2="772.6" y2="2947"/>
<line x1="981.9" y1="2937" x2="981.9" y2="2947"/>
<line x1="1191.2" y1="2937" x2="1191.2" y2="2947"/>
<line x1="1400.5" y1="2937" x2="1400.5" y2="2947"/>
</g>
<rect x="354" y="2090" width="1152.5" height="847" fill="none" stroke="#000" stroke-width="6.5" stroke-linejoin="round"/>
<text transform="translate(326.5,2946) scale(0.98,1)" font-family="'Liberation Sans', Arial, sans-serif" font-size="41.8" text-anchor="end" stroke="#000" stroke-width="1.0">0</text>
<text transform="translate(326.5,2776.6) scale(0.98,1)" font-family="'Liberation Sans', Arial, sans-serif" font-size="41.8" text-anchor="end" stroke="#000" stroke-width="1.0">10</text>
<text transform="translate(326.5,2607.2) scale(0.98,1)" font-family="'Liberation Sans', Arial, sans-serif" font-size="41.8" text-anchor="end" stroke="#000" stroke-width="1.0">20</text>
<text transform="translate(326.5,2437.8) scale(0.98,1)" font-family="'Liberation Sans', Arial, sans-serif" font-size="41.8" text-anchor="end" stroke="#000" stroke-width="1.0">30</text>
<text transform="translate(326.5,2268.4) scale(0.98,1)" font-family="'Liberation Sans', Arial, sans-serif" font-size="41.8" text-anchor="end" stroke="#000" stroke-width="1.0">40</text>
<text transform="translate(326.5,2099) scale(0.98,1)" font-family="'Liberation Sans', Arial, sans-serif" font-size="41.8" text-anchor="end" stroke="#000" stroke-width="1.0">50</text>
<text transform="translate(458.6,2993) scale(0.98,1)" font-family="'Liberation Sans', Arial, sans-serif" font-size="41.8" text-anchor="middle" stroke="#000" stroke-width="1.0">50</text>
<text transform="translate(668,2993) scale(0.98,1)" font-family="'Liberation Sans', Arial, sans-serif" font-size="41.8" text-anchor="middle" stroke="#000" stroke-width="1.0">60</text>
<text transform="translate(877.2,2993) scale(0.98,1)" font-family="'Liberation Sans', Arial, sans-serif" font-size="41.8" text-anchor="middle" stroke="#000" stroke-width="1.0">70</text>
<text transform="translate(1086.5,2993) scale(0.98,1)" font-family="'Liberation Sans', Arial, sans-serif" font-size="41.8" text-anchor="middle" stroke="#000" stroke-width="1.0">80</text>
<text transform="translate(1295.8,2993) scale(0.98,1)" font-family="'Liberation Sans', Arial, sans-serif" font-size="41.8" text-anchor="middle" stroke="#000" stroke-width="1.0">90</text>
<text transform="translate(1505.2,2993) scale(0.98,1)" font-family="'Liberation Sans', Arial, sans-serif" font-size="41.8" text-anchor="middle" stroke="#000" stroke-width="1.0">100</text>
<text transform="translate(257.5,2626) rotate(-90)" font-family="'Liberation Serif', 'Times New Roman', serif" font-size="50"><tspan font-weight="bold" stroke="#000" stroke-width="3">-</tspan><tspan font-weight="bold" font-style="italic" font-size="70">Z</tspan><tspan font-style="italic">&#8243;</tspan><tspan dx="26"> (</tspan><tspan font-size="63">&#937;</tspan><tspan>)</tspan></text>
<text x="822" y="3060" font-family="'Liberation Serif', 'Times New Roman', serif" font-size="50"><tspan font-weight="bold" font-style="italic" font-size="66">Z</tspan><tspan font-style="italic" font-size="60">&#8242;</tspan><tspan dx="5"> (</tspan><tspan font-size="63">&#937;</tspan><tspan>)</tspan></text>
<text x="16" y="2181" font-family="'Liberation Serif', 'Times New Roman', serif" font-size="122" font-weight="normal" text-anchor="start" >(c)</text>
<rect x="420.1" y="2178.8" width="19.5" height="19.5" fill="#000"/>
<circle cx="429.8" cy="2262.1" r="10" fill="#f00"/>
<path d="M429.8,2324.3 L442.8,2345.3 L416.8,2345.3 Z" fill="#00f"/>
<text transform="translate(480.8,2198.1) scale(1.0,1)" x="-0.6" y="0" font-family="'Liberation Serif', 'Times New Roman', serif" font-size="45" font-weight="bold" textLength="85.6" lengthAdjust="spacing">WO</text>
<text x="563.5" y="2216.6" font-family="'Liberation Serif', 'Times New Roman', serif" font-size="26" font-weight="normal" text-anchor="start" stroke="#000" stroke-width="0.5">3</text>
<text transform="translate(593.4,2198.1) scale(0.92,1)" x="-1.2" y="0" font-family="'Liberation Serif', 'Times New Roman', serif" font-size="45" font-weight="bold" textLength="255.3" lengthAdjust="spacing">nanoribbon</text>
<text transform="translate(483.7,2274.1) scale(1.0,1)" x="-0.6" y="0" font-family="'Liberation Serif', 'Times New Roman', serif" font-size="45" font-weight="bold" textLength="82.7" lengthAdjust="spacing">WO</text>
<text x="565.5" y="2292.6" font-family="'Liberation Serif', 'Times New Roman', serif" font-size="26" font-weight="normal" text-anchor="start" stroke="#000" stroke-width="0.5">3</text>
<text transform="translate(595.3,2274.1) scale(0.92,1)" x="-1.2" y="0" font-family="'Liberation Serif', 'Times New Roman', serif" font-size="45" font-weight="bold" textLength="219.2" lengthAdjust="spacing">nanosheet</text>
<text transform="translate(483.7,2347.3) scale(1.0,1)" x="-0.6" y="0" font-family="'Liberation Serif', 'Times New Roman', serif" font-size="45" font-weight="bold" textLength="82.7" lengthAdjust="spacing">WO</text>
<text x="565.5" y="2365.8" font-family="'Liberation Serif', 'Times New Roman', serif" font-size="26" font-weight="normal" text-anchor="start" stroke="#000" stroke-width="0.5">3</text>
<text transform="translate(595.3,2347.3) scale(0.92,1)" x="-1.2" y="0" font-family="'Liberation Serif', 'Times New Roman', serif" font-size="45" font-weight="bold" textLength="229.5" lengthAdjust="spacing">nanoblock</text>
</svg>
</body></html>
